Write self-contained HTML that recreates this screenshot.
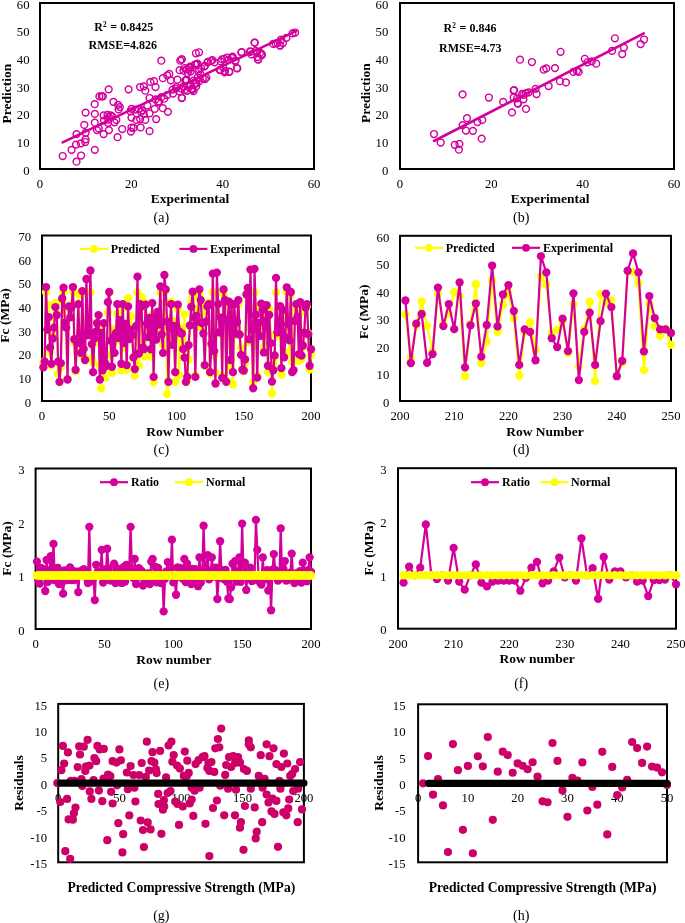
<!DOCTYPE html>
<html><head><meta charset="utf-8"><style>
html,body{margin:0;padding:0;background:#fff;}
body{width:685px;height:923px;overflow:hidden;}
svg{display:block;font-family:"Liberation Serif",serif;will-change:transform;}
</style></head><body>
<svg width="685" height="923" viewBox="0 0 685 923">
<rect width="685" height="923" fill="#fff"/>
<rect x="40.00" y="3.00" width="274.00" height="166.00" fill="none" stroke="#000" stroke-width="2"/>
<circle cx="62.7" cy="156.0" r="3.4" fill="none" stroke="#d4009b" stroke-width="1.45"/>
<circle cx="71.6" cy="149.8" r="3.4" fill="none" stroke="#d4009b" stroke-width="1.45"/>
<circle cx="76.5" cy="161.7" r="3.4" fill="none" stroke="#d4009b" stroke-width="1.45"/>
<circle cx="81.1" cy="155.5" r="3.4" fill="none" stroke="#d4009b" stroke-width="1.45"/>
<circle cx="76.0" cy="144.6" r="3.4" fill="none" stroke="#d4009b" stroke-width="1.45"/>
<circle cx="80.8" cy="143.3" r="3.4" fill="none" stroke="#d4009b" stroke-width="1.45"/>
<circle cx="85.2" cy="142.0" r="3.4" fill="none" stroke="#d4009b" stroke-width="1.45"/>
<circle cx="85.6" cy="139.3" r="3.4" fill="none" stroke="#d4009b" stroke-width="1.45"/>
<circle cx="76.5" cy="134.1" r="3.4" fill="none" stroke="#d4009b" stroke-width="1.45"/>
<circle cx="84.3" cy="124.9" r="3.4" fill="none" stroke="#d4009b" stroke-width="1.45"/>
<circle cx="85.6" cy="132.8" r="3.4" fill="none" stroke="#d4009b" stroke-width="1.45"/>
<circle cx="94.8" cy="149.8" r="3.4" fill="none" stroke="#d4009b" stroke-width="1.45"/>
<circle cx="85.6" cy="112.6" r="3.4" fill="none" stroke="#d4009b" stroke-width="1.45"/>
<circle cx="94.8" cy="113.9" r="3.4" fill="none" stroke="#d4009b" stroke-width="1.45"/>
<circle cx="94.8" cy="122.7" r="3.4" fill="none" stroke="#d4009b" stroke-width="1.45"/>
<circle cx="97.0" cy="130.1" r="3.4" fill="none" stroke="#d4009b" stroke-width="1.45"/>
<circle cx="98.8" cy="128.4" r="3.4" fill="none" stroke="#d4009b" stroke-width="1.45"/>
<circle cx="103.6" cy="134.1" r="3.4" fill="none" stroke="#d4009b" stroke-width="1.45"/>
<circle cx="108.9" cy="130.1" r="3.4" fill="none" stroke="#d4009b" stroke-width="1.45"/>
<circle cx="103.6" cy="115.3" r="3.4" fill="none" stroke="#d4009b" stroke-width="1.45"/>
<circle cx="107.5" cy="114.8" r="3.4" fill="none" stroke="#d4009b" stroke-width="1.45"/>
<circle cx="110.6" cy="115.3" r="3.4" fill="none" stroke="#d4009b" stroke-width="1.45"/>
<circle cx="104.0" cy="120.5" r="3.4" fill="none" stroke="#d4009b" stroke-width="1.45"/>
<circle cx="108.4" cy="119.6" r="3.4" fill="none" stroke="#d4009b" stroke-width="1.45"/>
<circle cx="114.5" cy="122.3" r="3.4" fill="none" stroke="#d4009b" stroke-width="1.45"/>
<circle cx="94.7" cy="104.2" r="3.4" fill="none" stroke="#d4009b" stroke-width="1.45"/>
<circle cx="99.4" cy="96.3" r="3.4" fill="none" stroke="#d4009b" stroke-width="1.45"/>
<circle cx="101.7" cy="96.3" r="3.4" fill="none" stroke="#d4009b" stroke-width="1.45"/>
<circle cx="102.9" cy="96.3" r="3.4" fill="none" stroke="#d4009b" stroke-width="1.45"/>
<circle cx="113.4" cy="101.8" r="3.4" fill="none" stroke="#d4009b" stroke-width="1.45"/>
<circle cx="118.1" cy="104.8" r="3.4" fill="none" stroke="#d4009b" stroke-width="1.45"/>
<circle cx="119.8" cy="107.1" r="3.4" fill="none" stroke="#d4009b" stroke-width="1.45"/>
<circle cx="118.6" cy="109.4" r="3.4" fill="none" stroke="#d4009b" stroke-width="1.45"/>
<circle cx="116.3" cy="119.9" r="3.4" fill="none" stroke="#d4009b" stroke-width="1.45"/>
<circle cx="112.2" cy="116.4" r="3.4" fill="none" stroke="#d4009b" stroke-width="1.45"/>
<circle cx="122.2" cy="129.0" r="3.4" fill="none" stroke="#d4009b" stroke-width="1.45"/>
<circle cx="117.5" cy="137.2" r="3.4" fill="none" stroke="#d4009b" stroke-width="1.45"/>
<circle cx="108.7" cy="89.3" r="3.4" fill="none" stroke="#d4009b" stroke-width="1.45"/>
<circle cx="128.6" cy="89.3" r="3.4" fill="none" stroke="#d4009b" stroke-width="1.45"/>
<circle cx="131.5" cy="108.8" r="3.4" fill="none" stroke="#d4009b" stroke-width="1.45"/>
<circle cx="131.5" cy="117.6" r="3.4" fill="none" stroke="#d4009b" stroke-width="1.45"/>
<circle cx="131.5" cy="127.5" r="3.4" fill="none" stroke="#d4009b" stroke-width="1.45"/>
<circle cx="130.9" cy="131.6" r="3.4" fill="none" stroke="#d4009b" stroke-width="1.45"/>
<circle cx="108.8" cy="116.9" r="3.4" fill="none" stroke="#d4009b" stroke-width="1.45"/>
<circle cx="108.0" cy="122.8" r="3.4" fill="none" stroke="#d4009b" stroke-width="1.45"/>
<circle cx="133.6" cy="127.9" r="3.4" fill="none" stroke="#d4009b" stroke-width="1.45"/>
<circle cx="140.6" cy="127.4" r="3.4" fill="none" stroke="#d4009b" stroke-width="1.45"/>
<circle cx="149.6" cy="131.2" r="3.4" fill="none" stroke="#d4009b" stroke-width="1.45"/>
<circle cx="136.5" cy="119.9" r="3.4" fill="none" stroke="#d4009b" stroke-width="1.45"/>
<circle cx="140.1" cy="119.1" r="3.4" fill="none" stroke="#d4009b" stroke-width="1.45"/>
<circle cx="145.3" cy="119.9" r="3.4" fill="none" stroke="#d4009b" stroke-width="1.45"/>
<circle cx="156.2" cy="119.1" r="3.4" fill="none" stroke="#d4009b" stroke-width="1.45"/>
<circle cx="135.0" cy="109.6" r="3.4" fill="none" stroke="#d4009b" stroke-width="1.45"/>
<circle cx="138.7" cy="108.9" r="3.4" fill="none" stroke="#d4009b" stroke-width="1.45"/>
<circle cx="142.3" cy="110.4" r="3.4" fill="none" stroke="#d4009b" stroke-width="1.45"/>
<circle cx="147.4" cy="105.5" r="3.4" fill="none" stroke="#d4009b" stroke-width="1.45"/>
<circle cx="149.6" cy="113.3" r="3.4" fill="none" stroke="#d4009b" stroke-width="1.45"/>
<circle cx="154.7" cy="108.9" r="3.4" fill="none" stroke="#d4009b" stroke-width="1.45"/>
<circle cx="162.8" cy="108.2" r="3.4" fill="none" stroke="#d4009b" stroke-width="1.45"/>
<circle cx="167.9" cy="111.8" r="3.4" fill="none" stroke="#d4009b" stroke-width="1.45"/>
<circle cx="149.6" cy="98.0" r="3.4" fill="none" stroke="#d4009b" stroke-width="1.45"/>
<circle cx="155.5" cy="99.4" r="3.4" fill="none" stroke="#d4009b" stroke-width="1.45"/>
<circle cx="159.1" cy="101.6" r="3.4" fill="none" stroke="#d4009b" stroke-width="1.45"/>
<circle cx="161.3" cy="97.2" r="3.4" fill="none" stroke="#d4009b" stroke-width="1.45"/>
<circle cx="164.2" cy="98.7" r="3.4" fill="none" stroke="#d4009b" stroke-width="1.45"/>
<circle cx="167.2" cy="95.0" r="3.4" fill="none" stroke="#d4009b" stroke-width="1.45"/>
<circle cx="162.8" cy="78.2" r="3.4" fill="none" stroke="#d4009b" stroke-width="1.45"/>
<circle cx="167.2" cy="75.3" r="3.4" fill="none" stroke="#d4009b" stroke-width="1.45"/>
<circle cx="169.3" cy="73.9" r="3.4" fill="none" stroke="#d4009b" stroke-width="1.45"/>
<circle cx="170.8" cy="80.4" r="3.4" fill="none" stroke="#d4009b" stroke-width="1.45"/>
<circle cx="177.4" cy="79.7" r="3.4" fill="none" stroke="#d4009b" stroke-width="1.45"/>
<circle cx="140.1" cy="87.0" r="3.4" fill="none" stroke="#d4009b" stroke-width="1.45"/>
<circle cx="143.8" cy="86.3" r="3.4" fill="none" stroke="#d4009b" stroke-width="1.45"/>
<circle cx="145.3" cy="90.7" r="3.4" fill="none" stroke="#d4009b" stroke-width="1.45"/>
<circle cx="150.4" cy="81.9" r="3.4" fill="none" stroke="#d4009b" stroke-width="1.45"/>
<circle cx="154.0" cy="81.2" r="3.4" fill="none" stroke="#d4009b" stroke-width="1.45"/>
<circle cx="155.5" cy="87.0" r="3.4" fill="none" stroke="#d4009b" stroke-width="1.45"/>
<circle cx="161.3" cy="60.7" r="3.4" fill="none" stroke="#d4009b" stroke-width="1.45"/>
<circle cx="180.3" cy="60.7" r="3.4" fill="none" stroke="#d4009b" stroke-width="1.45"/>
<circle cx="175.9" cy="88.5" r="3.4" fill="none" stroke="#d4009b" stroke-width="1.45"/>
<circle cx="179.6" cy="91.4" r="3.4" fill="none" stroke="#d4009b" stroke-width="1.45"/>
<circle cx="181.8" cy="98.0" r="3.4" fill="none" stroke="#d4009b" stroke-width="1.45"/>
<circle cx="184.7" cy="89.9" r="3.4" fill="none" stroke="#d4009b" stroke-width="1.45"/>
<circle cx="189.1" cy="87.0" r="3.4" fill="none" stroke="#d4009b" stroke-width="1.45"/>
<circle cx="192.0" cy="89.9" r="3.4" fill="none" stroke="#d4009b" stroke-width="1.45"/>
<circle cx="179.6" cy="70.2" r="3.4" fill="none" stroke="#d4009b" stroke-width="1.45"/>
<circle cx="184.7" cy="68.0" r="3.4" fill="none" stroke="#d4009b" stroke-width="1.45"/>
<circle cx="189.1" cy="69.5" r="3.4" fill="none" stroke="#d4009b" stroke-width="1.45"/>
<circle cx="187.6" cy="73.1" r="3.4" fill="none" stroke="#d4009b" stroke-width="1.45"/>
<circle cx="196.4" cy="64.4" r="3.4" fill="none" stroke="#d4009b" stroke-width="1.45"/>
<circle cx="196.4" cy="83.4" r="3.4" fill="none" stroke="#d4009b" stroke-width="1.45"/>
<circle cx="197.8" cy="77.5" r="3.4" fill="none" stroke="#d4009b" stroke-width="1.45"/>
<circle cx="186.1" cy="80.4" r="3.4" fill="none" stroke="#d4009b" stroke-width="1.45"/>
<circle cx="173.0" cy="93.6" r="3.4" fill="none" stroke="#d4009b" stroke-width="1.45"/>
<circle cx="130.5" cy="111.3" r="3.4" fill="none" stroke="#d4009b" stroke-width="1.45"/>
<circle cx="141.0" cy="111.9" r="3.4" fill="none" stroke="#d4009b" stroke-width="1.45"/>
<circle cx="143.7" cy="113.9" r="3.4" fill="none" stroke="#d4009b" stroke-width="1.45"/>
<circle cx="158.1" cy="102.1" r="3.4" fill="none" stroke="#d4009b" stroke-width="1.45"/>
<circle cx="172.6" cy="89.6" r="3.4" fill="none" stroke="#d4009b" stroke-width="1.45"/>
<circle cx="196.2" cy="86.3" r="3.4" fill="none" stroke="#d4009b" stroke-width="1.45"/>
<circle cx="176.5" cy="87.0" r="3.4" fill="none" stroke="#d4009b" stroke-width="1.45"/>
<circle cx="181.8" cy="88.9" r="3.4" fill="none" stroke="#d4009b" stroke-width="1.45"/>
<circle cx="181.6" cy="59.4" r="3.4" fill="none" stroke="#d4009b" stroke-width="1.45"/>
<circle cx="189.8" cy="67.6" r="3.4" fill="none" stroke="#d4009b" stroke-width="1.45"/>
<circle cx="195.9" cy="53.3" r="3.4" fill="none" stroke="#d4009b" stroke-width="1.45"/>
<circle cx="199.0" cy="52.3" r="3.4" fill="none" stroke="#d4009b" stroke-width="1.45"/>
<circle cx="186.7" cy="79.9" r="3.4" fill="none" stroke="#d4009b" stroke-width="1.45"/>
<circle cx="295.1" cy="32.5" r="3.4" fill="none" stroke="#d4009b" stroke-width="1.45"/>
<circle cx="292.5" cy="33.4" r="3.4" fill="none" stroke="#d4009b" stroke-width="1.45"/>
<circle cx="286.4" cy="37.8" r="3.4" fill="none" stroke="#d4009b" stroke-width="1.45"/>
<circle cx="281.1" cy="39.5" r="3.4" fill="none" stroke="#d4009b" stroke-width="1.45"/>
<circle cx="273.2" cy="43.9" r="3.4" fill="none" stroke="#d4009b" stroke-width="1.45"/>
<circle cx="277.6" cy="43.0" r="3.4" fill="none" stroke="#d4009b" stroke-width="1.45"/>
<circle cx="280.2" cy="45.7" r="3.4" fill="none" stroke="#d4009b" stroke-width="1.45"/>
<circle cx="282.9" cy="43.0" r="3.4" fill="none" stroke="#d4009b" stroke-width="1.45"/>
<circle cx="254.8" cy="42.7" r="3.4" fill="none" stroke="#d4009b" stroke-width="1.45"/>
<circle cx="241.7" cy="52.1" r="3.4" fill="none" stroke="#d4009b" stroke-width="1.45"/>
<circle cx="250.4" cy="51.8" r="3.4" fill="none" stroke="#d4009b" stroke-width="1.45"/>
<circle cx="255.7" cy="50.9" r="3.4" fill="none" stroke="#d4009b" stroke-width="1.45"/>
<circle cx="260.1" cy="52.7" r="3.4" fill="none" stroke="#d4009b" stroke-width="1.45"/>
<circle cx="261.8" cy="55.0" r="3.4" fill="none" stroke="#d4009b" stroke-width="1.45"/>
<circle cx="258.3" cy="59.7" r="3.4" fill="none" stroke="#d4009b" stroke-width="1.45"/>
<circle cx="257.4" cy="57.0" r="3.4" fill="none" stroke="#d4009b" stroke-width="1.45"/>
<circle cx="251.3" cy="54.4" r="3.4" fill="none" stroke="#d4009b" stroke-width="1.45"/>
<circle cx="237.3" cy="68.4" r="3.4" fill="none" stroke="#d4009b" stroke-width="1.45"/>
<circle cx="232.0" cy="57.9" r="3.4" fill="none" stroke="#d4009b" stroke-width="1.45"/>
<circle cx="228.5" cy="59.7" r="3.4" fill="none" stroke="#d4009b" stroke-width="1.45"/>
<circle cx="224.2" cy="58.8" r="3.4" fill="none" stroke="#d4009b" stroke-width="1.45"/>
<circle cx="235.5" cy="60.5" r="3.4" fill="none" stroke="#d4009b" stroke-width="1.45"/>
<circle cx="220.7" cy="61.4" r="3.4" fill="none" stroke="#d4009b" stroke-width="1.45"/>
<circle cx="214.5" cy="62.3" r="3.4" fill="none" stroke="#d4009b" stroke-width="1.45"/>
<circle cx="211.0" cy="60.9" r="3.4" fill="none" stroke="#d4009b" stroke-width="1.45"/>
<circle cx="207.5" cy="62.3" r="3.4" fill="none" stroke="#d4009b" stroke-width="1.45"/>
<circle cx="229.4" cy="71.9" r="3.4" fill="none" stroke="#d4009b" stroke-width="1.45"/>
<circle cx="225.0" cy="71.1" r="3.4" fill="none" stroke="#d4009b" stroke-width="1.45"/>
<circle cx="219.8" cy="70.2" r="3.4" fill="none" stroke="#d4009b" stroke-width="1.45"/>
<circle cx="223.3" cy="67.6" r="3.4" fill="none" stroke="#d4009b" stroke-width="1.45"/>
<circle cx="204.9" cy="65.8" r="3.4" fill="none" stroke="#d4009b" stroke-width="1.45"/>
<circle cx="198.8" cy="69.3" r="3.4" fill="none" stroke="#d4009b" stroke-width="1.45"/>
<circle cx="200.5" cy="74.6" r="3.4" fill="none" stroke="#d4009b" stroke-width="1.45"/>
<circle cx="204.9" cy="79.0" r="3.4" fill="none" stroke="#d4009b" stroke-width="1.45"/>
<circle cx="193.5" cy="80.7" r="3.4" fill="none" stroke="#d4009b" stroke-width="1.45"/>
<circle cx="196.1" cy="83.3" r="3.4" fill="none" stroke="#d4009b" stroke-width="1.45"/>
<circle cx="191.8" cy="88.6" r="3.4" fill="none" stroke="#d4009b" stroke-width="1.45"/>
<circle cx="193.5" cy="91.2" r="3.4" fill="none" stroke="#d4009b" stroke-width="1.45"/>
<circle cx="183.5" cy="70.7" r="3.4" fill="none" stroke="#d4009b" stroke-width="1.45"/>
<circle cx="190.5" cy="71.5" r="3.4" fill="none" stroke="#d4009b" stroke-width="1.45"/>
<circle cx="201.0" cy="68.0" r="3.4" fill="none" stroke="#d4009b" stroke-width="1.45"/>
<circle cx="198.4" cy="71.5" r="3.4" fill="none" stroke="#d4009b" stroke-width="1.45"/>
<circle cx="212.4" cy="60.1" r="3.4" fill="none" stroke="#d4009b" stroke-width="1.45"/>
<circle cx="202.8" cy="78.5" r="3.4" fill="none" stroke="#d4009b" stroke-width="1.45"/>
<circle cx="206.3" cy="77.7" r="3.4" fill="none" stroke="#d4009b" stroke-width="1.45"/>
<circle cx="199.3" cy="81.2" r="3.4" fill="none" stroke="#d4009b" stroke-width="1.45"/>
<circle cx="190.5" cy="84.7" r="3.4" fill="none" stroke="#d4009b" stroke-width="1.45"/>
<circle cx="185.3" cy="80.3" r="3.4" fill="none" stroke="#d4009b" stroke-width="1.45"/>
<circle cx="183.5" cy="86.4" r="3.4" fill="none" stroke="#d4009b" stroke-width="1.45"/>
<circle cx="187.0" cy="90.8" r="3.4" fill="none" stroke="#d4009b" stroke-width="1.45"/>
<circle cx="224.7" cy="72.4" r="3.4" fill="none" stroke="#d4009b" stroke-width="1.45"/>
<circle cx="227.3" cy="57.5" r="3.4" fill="none" stroke="#d4009b" stroke-width="1.45"/>
<circle cx="232.6" cy="56.6" r="3.4" fill="none" stroke="#d4009b" stroke-width="1.45"/>
<circle cx="257.1" cy="52.3" r="3.4" fill="none" stroke="#d4009b" stroke-width="1.45"/>
<circle cx="190.0" cy="66.7" r="3.4" fill="none" stroke="#d4009b" stroke-width="1.45"/>
<circle cx="197.0" cy="64.1" r="3.4" fill="none" stroke="#d4009b" stroke-width="1.45"/>
<circle cx="204.5" cy="66.3" r="3.4" fill="none" stroke="#d4009b" stroke-width="1.45"/>
<circle cx="208.0" cy="61.9" r="3.4" fill="none" stroke="#d4009b" stroke-width="1.45"/>
<circle cx="222.0" cy="59.3" r="3.4" fill="none" stroke="#d4009b" stroke-width="1.45"/>
<circle cx="235.2" cy="61.0" r="3.4" fill="none" stroke="#d4009b" stroke-width="1.45"/>
<circle cx="241.3" cy="52.3" r="3.4" fill="none" stroke="#d4009b" stroke-width="1.45"/>
<circle cx="254.5" cy="42.6" r="3.4" fill="none" stroke="#d4009b" stroke-width="1.45"/>
<circle cx="250.1" cy="51.4" r="3.4" fill="none" stroke="#d4009b" stroke-width="1.45"/>
<circle cx="261.5" cy="54.0" r="3.4" fill="none" stroke="#d4009b" stroke-width="1.45"/>
<circle cx="258.0" cy="59.3" r="3.4" fill="none" stroke="#d4009b" stroke-width="1.45"/>
<circle cx="275.5" cy="43.5" r="3.4" fill="none" stroke="#d4009b" stroke-width="1.45"/>
<circle cx="279.9" cy="45.3" r="3.4" fill="none" stroke="#d4009b" stroke-width="1.45"/>
<circle cx="236.9" cy="68.0" r="3.4" fill="none" stroke="#d4009b" stroke-width="1.45"/>
<circle cx="220.3" cy="69.8" r="3.4" fill="none" stroke="#d4009b" stroke-width="1.45"/>
<circle cx="229.1" cy="71.5" r="3.4" fill="none" stroke="#d4009b" stroke-width="1.45"/>
<circle cx="192.3" cy="89.9" r="3.4" fill="none" stroke="#d4009b" stroke-width="1.45"/>
<circle cx="194.9" cy="82.9" r="3.4" fill="none" stroke="#d4009b" stroke-width="1.45"/>
<circle cx="187.0" cy="68.9" r="3.4" fill="none" stroke="#d4009b" stroke-width="1.45"/>
<circle cx="197.5" cy="63.7" r="3.4" fill="none" stroke="#d4009b" stroke-width="1.45"/>
<circle cx="194.9" cy="64.5" r="3.4" fill="none" stroke="#d4009b" stroke-width="1.45"/>
<circle cx="181.8" cy="97.8" r="3.4" fill="none" stroke="#d4009b" stroke-width="1.45"/>
<circle cx="181.8" cy="59.3" r="3.4" fill="none" stroke="#d4009b" stroke-width="1.45"/>
<line x1="62.70" y1="142.40" x2="296.00" y2="31.10" stroke="#d4009b" stroke-width="2.6" stroke-linecap="round"/>
<text transform="translate(29.50 174.70) scale(1 1.03)" font-size="12.7" text-anchor="end" fill="#000">0</text>
<text transform="translate(29.50 147.03) scale(1 1.03)" font-size="12.7" text-anchor="end" fill="#000">10</text>
<text transform="translate(29.50 119.37) scale(1 1.03)" font-size="12.7" text-anchor="end" fill="#000">20</text>
<text transform="translate(29.50 91.70) scale(1 1.03)" font-size="12.7" text-anchor="end" fill="#000">30</text>
<text transform="translate(29.50 64.03) scale(1 1.03)" font-size="12.7" text-anchor="end" fill="#000">40</text>
<text transform="translate(29.50 36.37) scale(1 1.03)" font-size="12.7" text-anchor="end" fill="#000">50</text>
<text transform="translate(29.50 8.70) scale(1 1.03)" font-size="12.7" text-anchor="end" fill="#000">60</text>
<text transform="translate(40.00 187.70) scale(1 1.03)" font-size="12.7" text-anchor="middle" fill="#000">0</text>
<text transform="translate(131.33 187.70) scale(1 1.03)" font-size="12.7" text-anchor="middle" fill="#000">20</text>
<text transform="translate(222.67 187.70) scale(1 1.03)" font-size="12.7" text-anchor="middle" fill="#000">40</text>
<text transform="translate(314.00 187.70) scale(1 1.03)" font-size="12.7" text-anchor="middle" fill="#000">60</text>
<text x="190.00" y="202.50" font-size="13.5" font-weight="bold" text-anchor="middle" fill="#000">Experimental</text>
<text x="161.30" y="221.60" font-size="14" text-anchor="middle" fill="#000">(a)</text>
<text x="11.00" y="93.50" font-size="13.5" font-weight="bold" text-anchor="middle" fill="#000" transform="rotate(-90 11.00 93.50)">Prediction</text>
<text x="94.30" y="30.80" font-size="12" font-weight="bold">R<tspan font-size="7.2" dy="-4.1">2</tspan><tspan dy="4.1" dx="0.8"> = 0.8425</tspan></text>
<text x="88.50" y="48.80" font-size="12" font-weight="bold">RMSE=4.826</text>
<rect x="400.00" y="3.00" width="274.00" height="166.00" fill="none" stroke="#000" stroke-width="2"/>
<circle cx="434.0" cy="134.0" r="3.4" fill="none" stroke="#d4009b" stroke-width="1.45"/>
<circle cx="440.7" cy="142.5" r="3.4" fill="none" stroke="#d4009b" stroke-width="1.45"/>
<circle cx="454.7" cy="144.8" r="3.4" fill="none" stroke="#d4009b" stroke-width="1.45"/>
<circle cx="459.4" cy="143.9" r="3.4" fill="none" stroke="#d4009b" stroke-width="1.45"/>
<circle cx="458.9" cy="149.7" r="3.4" fill="none" stroke="#d4009b" stroke-width="1.45"/>
<circle cx="462.6" cy="94.4" r="3.4" fill="none" stroke="#d4009b" stroke-width="1.45"/>
<circle cx="462.6" cy="125.2" r="3.4" fill="none" stroke="#d4009b" stroke-width="1.45"/>
<circle cx="467.0" cy="118.2" r="3.4" fill="none" stroke="#d4009b" stroke-width="1.45"/>
<circle cx="465.9" cy="130.5" r="3.4" fill="none" stroke="#d4009b" stroke-width="1.45"/>
<circle cx="472.9" cy="130.8" r="3.4" fill="none" stroke="#d4009b" stroke-width="1.45"/>
<circle cx="477.5" cy="122.0" r="3.4" fill="none" stroke="#d4009b" stroke-width="1.45"/>
<circle cx="482.2" cy="119.9" r="3.4" fill="none" stroke="#d4009b" stroke-width="1.45"/>
<circle cx="481.7" cy="138.7" r="3.4" fill="none" stroke="#d4009b" stroke-width="1.45"/>
<circle cx="488.9" cy="97.5" r="3.4" fill="none" stroke="#d4009b" stroke-width="1.45"/>
<circle cx="503.2" cy="101.9" r="3.4" fill="none" stroke="#d4009b" stroke-width="1.45"/>
<circle cx="512.0" cy="112.4" r="3.4" fill="none" stroke="#d4009b" stroke-width="1.45"/>
<circle cx="513.7" cy="90.5" r="3.4" fill="none" stroke="#d4009b" stroke-width="1.45"/>
<circle cx="513.7" cy="97.5" r="3.4" fill="none" stroke="#d4009b" stroke-width="1.45"/>
<circle cx="517.2" cy="98.4" r="3.4" fill="none" stroke="#d4009b" stroke-width="1.45"/>
<circle cx="518.1" cy="103.7" r="3.4" fill="none" stroke="#d4009b" stroke-width="1.45"/>
<circle cx="523.4" cy="99.3" r="3.4" fill="none" stroke="#d4009b" stroke-width="1.45"/>
<circle cx="523.4" cy="94.9" r="3.4" fill="none" stroke="#d4009b" stroke-width="1.45"/>
<circle cx="526.0" cy="108.9" r="3.4" fill="none" stroke="#d4009b" stroke-width="1.45"/>
<circle cx="526.0" cy="93.1" r="3.4" fill="none" stroke="#d4009b" stroke-width="1.45"/>
<circle cx="528.6" cy="92.3" r="3.4" fill="none" stroke="#d4009b" stroke-width="1.45"/>
<circle cx="535.6" cy="88.8" r="3.4" fill="none" stroke="#d4009b" stroke-width="1.45"/>
<circle cx="536.5" cy="94.0" r="3.4" fill="none" stroke="#d4009b" stroke-width="1.45"/>
<circle cx="520.0" cy="59.7" r="3.4" fill="none" stroke="#d4009b" stroke-width="1.45"/>
<circle cx="531.9" cy="62.0" r="3.4" fill="none" stroke="#d4009b" stroke-width="1.45"/>
<circle cx="543.7" cy="69.7" r="3.4" fill="none" stroke="#d4009b" stroke-width="1.45"/>
<circle cx="546.3" cy="68.4" r="3.4" fill="none" stroke="#d4009b" stroke-width="1.45"/>
<circle cx="555.0" cy="68.1" r="3.4" fill="none" stroke="#d4009b" stroke-width="1.45"/>
<circle cx="560.6" cy="51.8" r="3.4" fill="none" stroke="#d4009b" stroke-width="1.45"/>
<circle cx="548.6" cy="86.0" r="3.4" fill="none" stroke="#d4009b" stroke-width="1.45"/>
<circle cx="559.9" cy="81.2" r="3.4" fill="none" stroke="#d4009b" stroke-width="1.45"/>
<circle cx="565.9" cy="82.4" r="3.4" fill="none" stroke="#d4009b" stroke-width="1.45"/>
<circle cx="573.4" cy="71.9" r="3.4" fill="none" stroke="#d4009b" stroke-width="1.45"/>
<circle cx="576.9" cy="71.1" r="3.4" fill="none" stroke="#d4009b" stroke-width="1.45"/>
<circle cx="578.7" cy="71.9" r="3.4" fill="none" stroke="#d4009b" stroke-width="1.45"/>
<circle cx="584.8" cy="58.8" r="3.4" fill="none" stroke="#d4009b" stroke-width="1.45"/>
<circle cx="587.4" cy="62.3" r="3.4" fill="none" stroke="#d4009b" stroke-width="1.45"/>
<circle cx="591.8" cy="61.4" r="3.4" fill="none" stroke="#d4009b" stroke-width="1.45"/>
<circle cx="596.2" cy="63.7" r="3.4" fill="none" stroke="#d4009b" stroke-width="1.45"/>
<circle cx="612.0" cy="50.9" r="3.4" fill="none" stroke="#d4009b" stroke-width="1.45"/>
<circle cx="614.9" cy="38.3" r="3.4" fill="none" stroke="#d4009b" stroke-width="1.45"/>
<circle cx="623.9" cy="47.6" r="3.4" fill="none" stroke="#d4009b" stroke-width="1.45"/>
<circle cx="622.2" cy="54.1" r="3.4" fill="none" stroke="#d4009b" stroke-width="1.45"/>
<circle cx="640.6" cy="44.1" r="3.4" fill="none" stroke="#d4009b" stroke-width="1.45"/>
<circle cx="644.1" cy="39.5" r="3.4" fill="none" stroke="#d4009b" stroke-width="1.45"/>
<circle cx="514.1" cy="90.1" r="3.4" fill="none" stroke="#d4009b" stroke-width="1.45"/>
<circle cx="517.7" cy="103.3" r="3.4" fill="none" stroke="#d4009b" stroke-width="1.45"/>
<circle cx="522.1" cy="93.8" r="3.4" fill="none" stroke="#d4009b" stroke-width="1.45"/>
<line x1="434.00" y1="141.00" x2="643.80" y2="33.30" stroke="#d4009b" stroke-width="2.6" stroke-linecap="round"/>
<text transform="translate(388.30 174.70) scale(1 1.03)" font-size="12.7" text-anchor="end" fill="#000">0</text>
<text transform="translate(388.30 147.03) scale(1 1.03)" font-size="12.7" text-anchor="end" fill="#000">10</text>
<text transform="translate(388.30 119.37) scale(1 1.03)" font-size="12.7" text-anchor="end" fill="#000">20</text>
<text transform="translate(388.30 91.70) scale(1 1.03)" font-size="12.7" text-anchor="end" fill="#000">30</text>
<text transform="translate(388.30 64.03) scale(1 1.03)" font-size="12.7" text-anchor="end" fill="#000">40</text>
<text transform="translate(388.30 36.37) scale(1 1.03)" font-size="12.7" text-anchor="end" fill="#000">50</text>
<text transform="translate(388.30 8.70) scale(1 1.03)" font-size="12.7" text-anchor="end" fill="#000">60</text>
<text transform="translate(400.00 187.70) scale(1 1.03)" font-size="12.7" text-anchor="middle" fill="#000">0</text>
<text transform="translate(491.33 187.70) scale(1 1.03)" font-size="12.7" text-anchor="middle" fill="#000">20</text>
<text transform="translate(582.67 187.70) scale(1 1.03)" font-size="12.7" text-anchor="middle" fill="#000">40</text>
<text transform="translate(674.00 187.70) scale(1 1.03)" font-size="12.7" text-anchor="middle" fill="#000">60</text>
<text x="550.20" y="202.50" font-size="13.5" font-weight="bold" text-anchor="middle" fill="#000">Experimental</text>
<text x="521.20" y="221.60" font-size="14" text-anchor="middle" fill="#000">(b)</text>
<text x="369.70" y="93.00" font-size="13.5" font-weight="bold" text-anchor="middle" fill="#000" transform="rotate(-90 369.70 93.00)">Prediction</text>
<text x="443.50" y="31.90" font-size="12" font-weight="bold">R<tspan font-size="7.2" dy="-4.1">2</tspan><tspan dy="4.1" dx="0.8"> = 0.846</tspan></text>
<text x="439.10" y="51.80" font-size="12" font-weight="bold">RMSE=4.73</text>
<rect x="42.00" y="235.50" width="269.00" height="165.50" fill="none" stroke="#000" stroke-width="2"/>
<polyline points="43.34,363.34 44.69,361.01 46.03,292.24 47.38,330.12 48.73,304.85 50.07,352.01 51.41,365.54 52.76,333.71 54.11,318.13 55.45,302.81 56.80,313.10 58.14,373.66 59.48,382.09 60.83,367.19 62.17,301.92 63.52,292.24 64.87,325.20 66.21,322.42 67.56,378.94 68.90,308.54 70.25,316.64 71.59,304.30 72.94,292.24 74.28,342.37 75.62,371.33 76.97,351.70 78.31,293.45 79.66,333.36 81.00,354.12 82.35,294.23 83.69,357.17 85.04,358.92 86.39,292.24 87.73,321.06 89.07,332.61 90.42,292.24 91.77,358.28 93.11,362.83 94.45,337.16 95.80,342.33 97.14,322.06 98.49,325.77 99.84,365.30 101.18,388.23 102.53,366.47 103.87,324.22 105.22,377.57 106.56,366.53 107.91,312.46 109.25,292.24 110.59,354.77 111.94,372.79 113.28,329.05 114.63,341.93 115.98,340.69 117.32,314.22 118.66,332.32 120.01,314.59 121.35,370.29 122.70,308.66 124.05,347.55 125.39,331.72 126.73,369.57 128.08,298.15 129.43,334.46 130.77,316.11 132.12,335.66 133.46,358.28 134.81,375.59 136.15,326.65 137.50,292.24 138.84,365.25 140.19,299.45 141.53,296.90 142.88,341.78 144.22,356.08 145.56,302.87 146.91,328.13 148.25,336.55 149.60,320.50 150.94,356.62 152.29,314.32 153.63,382.09 154.98,317.13 156.32,338.66 157.67,314.92 159.01,315.16 160.36,292.24 161.70,330.47 163.05,344.78 164.40,292.24 165.74,302.45 167.09,393.91 168.43,382.09 169.77,319.08 171.12,301.93 172.47,338.08 173.81,320.96 175.16,382.09 176.50,322.20 177.84,308.99 179.19,374.99 180.53,335.86 181.88,328.42 183.22,343.34 184.57,314.47 185.92,382.09 187.26,380.79 188.61,359.32 189.95,325.97 191.30,302.82 192.64,296.83 193.98,315.91 195.33,375.35 196.67,309.33 198.02,326.98 199.36,294.89 200.71,305.10 202.06,311.53 203.40,326.26 204.75,365.88 206.09,320.17 207.44,305.67 208.78,302.72 210.12,373.54 211.47,345.96 212.81,292.24 214.16,355.36 215.50,372.58 216.85,292.24 218.19,303.64 219.54,333.67 220.89,317.24 222.23,375.49 223.58,293.68 224.92,298.75 226.27,380.26 227.61,324.56 228.95,306.92 230.30,366.60 231.64,311.10 232.99,384.21 234.33,318.25 235.68,335.37 237.03,326.09 238.37,304.15 239.72,333.97 241.06,347.47 242.41,369.29 243.75,371.43 245.09,363.44 246.44,295.22 247.78,292.24 249.13,342.02 250.47,292.24 251.82,338.02 253.17,382.09 254.51,292.24 255.86,307.46 257.20,375.24 258.55,324.48 259.89,326.31 261.24,307.95 262.58,304.95 263.92,347.15 265.27,331.47 266.62,315.55 267.96,371.91 269.31,308.81 270.65,334.45 272.00,393.43 273.34,363.32 274.69,357.91 276.03,292.24 277.38,336.05 278.72,328.70 280.06,318.09 281.41,374.76 282.75,318.15 284.10,354.10 285.44,323.29 286.79,292.24 288.13,326.35 289.48,351.73 290.83,294.70 292.17,362.23 293.51,357.13 294.86,317.18 296.20,308.89 297.55,310.79 298.89,360.81 300.24,312.93 301.58,359.12 302.93,347.04 304.27,332.58 305.62,306.74 306.96,306.31 308.31,333.07 309.65,369.65 311.00,355.16" fill="none" stroke="#ffff00" stroke-width="2.2" stroke-linejoin="round"/>
<circle cx="43.34" cy="363.34" r="4.15" fill="#ffff00"/>
<circle cx="44.69" cy="361.01" r="4.15" fill="#ffff00"/>
<circle cx="46.03" cy="292.24" r="4.15" fill="#ffff00"/>
<circle cx="47.38" cy="330.12" r="4.15" fill="#ffff00"/>
<circle cx="48.73" cy="304.85" r="4.15" fill="#ffff00"/>
<circle cx="50.07" cy="352.01" r="4.15" fill="#ffff00"/>
<circle cx="51.41" cy="365.54" r="4.15" fill="#ffff00"/>
<circle cx="52.76" cy="333.71" r="4.15" fill="#ffff00"/>
<circle cx="54.11" cy="318.13" r="4.15" fill="#ffff00"/>
<circle cx="55.45" cy="302.81" r="4.15" fill="#ffff00"/>
<circle cx="56.80" cy="313.10" r="4.15" fill="#ffff00"/>
<circle cx="58.14" cy="373.66" r="4.15" fill="#ffff00"/>
<circle cx="59.48" cy="382.09" r="4.15" fill="#ffff00"/>
<circle cx="60.83" cy="367.19" r="4.15" fill="#ffff00"/>
<circle cx="62.17" cy="301.92" r="4.15" fill="#ffff00"/>
<circle cx="63.52" cy="292.24" r="4.15" fill="#ffff00"/>
<circle cx="64.87" cy="325.20" r="4.15" fill="#ffff00"/>
<circle cx="66.21" cy="322.42" r="4.15" fill="#ffff00"/>
<circle cx="67.56" cy="378.94" r="4.15" fill="#ffff00"/>
<circle cx="68.90" cy="308.54" r="4.15" fill="#ffff00"/>
<circle cx="70.25" cy="316.64" r="4.15" fill="#ffff00"/>
<circle cx="71.59" cy="304.30" r="4.15" fill="#ffff00"/>
<circle cx="72.94" cy="292.24" r="4.15" fill="#ffff00"/>
<circle cx="74.28" cy="342.37" r="4.15" fill="#ffff00"/>
<circle cx="75.62" cy="371.33" r="4.15" fill="#ffff00"/>
<circle cx="76.97" cy="351.70" r="4.15" fill="#ffff00"/>
<circle cx="78.31" cy="293.45" r="4.15" fill="#ffff00"/>
<circle cx="79.66" cy="333.36" r="4.15" fill="#ffff00"/>
<circle cx="81.00" cy="354.12" r="4.15" fill="#ffff00"/>
<circle cx="82.35" cy="294.23" r="4.15" fill="#ffff00"/>
<circle cx="83.69" cy="357.17" r="4.15" fill="#ffff00"/>
<circle cx="85.04" cy="358.92" r="4.15" fill="#ffff00"/>
<circle cx="86.39" cy="292.24" r="4.15" fill="#ffff00"/>
<circle cx="87.73" cy="321.06" r="4.15" fill="#ffff00"/>
<circle cx="89.07" cy="332.61" r="4.15" fill="#ffff00"/>
<circle cx="90.42" cy="292.24" r="4.15" fill="#ffff00"/>
<circle cx="91.77" cy="358.28" r="4.15" fill="#ffff00"/>
<circle cx="93.11" cy="362.83" r="4.15" fill="#ffff00"/>
<circle cx="94.45" cy="337.16" r="4.15" fill="#ffff00"/>
<circle cx="95.80" cy="342.33" r="4.15" fill="#ffff00"/>
<circle cx="97.14" cy="322.06" r="4.15" fill="#ffff00"/>
<circle cx="98.49" cy="325.77" r="4.15" fill="#ffff00"/>
<circle cx="99.84" cy="365.30" r="4.15" fill="#ffff00"/>
<circle cx="101.18" cy="388.23" r="4.15" fill="#ffff00"/>
<circle cx="102.53" cy="366.47" r="4.15" fill="#ffff00"/>
<circle cx="103.87" cy="324.22" r="4.15" fill="#ffff00"/>
<circle cx="105.22" cy="377.57" r="4.15" fill="#ffff00"/>
<circle cx="106.56" cy="366.53" r="4.15" fill="#ffff00"/>
<circle cx="107.91" cy="312.46" r="4.15" fill="#ffff00"/>
<circle cx="109.25" cy="292.24" r="4.15" fill="#ffff00"/>
<circle cx="110.59" cy="354.77" r="4.15" fill="#ffff00"/>
<circle cx="111.94" cy="372.79" r="4.15" fill="#ffff00"/>
<circle cx="113.28" cy="329.05" r="4.15" fill="#ffff00"/>
<circle cx="114.63" cy="341.93" r="4.15" fill="#ffff00"/>
<circle cx="115.98" cy="340.69" r="4.15" fill="#ffff00"/>
<circle cx="117.32" cy="314.22" r="4.15" fill="#ffff00"/>
<circle cx="118.66" cy="332.32" r="4.15" fill="#ffff00"/>
<circle cx="120.01" cy="314.59" r="4.15" fill="#ffff00"/>
<circle cx="121.35" cy="370.29" r="4.15" fill="#ffff00"/>
<circle cx="122.70" cy="308.66" r="4.15" fill="#ffff00"/>
<circle cx="124.05" cy="347.55" r="4.15" fill="#ffff00"/>
<circle cx="125.39" cy="331.72" r="4.15" fill="#ffff00"/>
<circle cx="126.73" cy="369.57" r="4.15" fill="#ffff00"/>
<circle cx="128.08" cy="298.15" r="4.15" fill="#ffff00"/>
<circle cx="129.43" cy="334.46" r="4.15" fill="#ffff00"/>
<circle cx="130.77" cy="316.11" r="4.15" fill="#ffff00"/>
<circle cx="132.12" cy="335.66" r="4.15" fill="#ffff00"/>
<circle cx="133.46" cy="358.28" r="4.15" fill="#ffff00"/>
<circle cx="134.81" cy="375.59" r="4.15" fill="#ffff00"/>
<circle cx="136.15" cy="326.65" r="4.15" fill="#ffff00"/>
<circle cx="137.50" cy="292.24" r="4.15" fill="#ffff00"/>
<circle cx="138.84" cy="365.25" r="4.15" fill="#ffff00"/>
<circle cx="140.19" cy="299.45" r="4.15" fill="#ffff00"/>
<circle cx="141.53" cy="296.90" r="4.15" fill="#ffff00"/>
<circle cx="142.88" cy="341.78" r="4.15" fill="#ffff00"/>
<circle cx="144.22" cy="356.08" r="4.15" fill="#ffff00"/>
<circle cx="145.56" cy="302.87" r="4.15" fill="#ffff00"/>
<circle cx="146.91" cy="328.13" r="4.15" fill="#ffff00"/>
<circle cx="148.25" cy="336.55" r="4.15" fill="#ffff00"/>
<circle cx="149.60" cy="320.50" r="4.15" fill="#ffff00"/>
<circle cx="150.94" cy="356.62" r="4.15" fill="#ffff00"/>
<circle cx="152.29" cy="314.32" r="4.15" fill="#ffff00"/>
<circle cx="153.63" cy="382.09" r="4.15" fill="#ffff00"/>
<circle cx="154.98" cy="317.13" r="4.15" fill="#ffff00"/>
<circle cx="156.32" cy="338.66" r="4.15" fill="#ffff00"/>
<circle cx="157.67" cy="314.92" r="4.15" fill="#ffff00"/>
<circle cx="159.01" cy="315.16" r="4.15" fill="#ffff00"/>
<circle cx="160.36" cy="292.24" r="4.15" fill="#ffff00"/>
<circle cx="161.70" cy="330.47" r="4.15" fill="#ffff00"/>
<circle cx="163.05" cy="344.78" r="4.15" fill="#ffff00"/>
<circle cx="164.40" cy="292.24" r="4.15" fill="#ffff00"/>
<circle cx="165.74" cy="302.45" r="4.15" fill="#ffff00"/>
<circle cx="167.09" cy="393.91" r="4.15" fill="#ffff00"/>
<circle cx="168.43" cy="382.09" r="4.15" fill="#ffff00"/>
<circle cx="169.77" cy="319.08" r="4.15" fill="#ffff00"/>
<circle cx="171.12" cy="301.93" r="4.15" fill="#ffff00"/>
<circle cx="172.47" cy="338.08" r="4.15" fill="#ffff00"/>
<circle cx="173.81" cy="320.96" r="4.15" fill="#ffff00"/>
<circle cx="175.16" cy="382.09" r="4.15" fill="#ffff00"/>
<circle cx="176.50" cy="322.20" r="4.15" fill="#ffff00"/>
<circle cx="177.84" cy="308.99" r="4.15" fill="#ffff00"/>
<circle cx="179.19" cy="374.99" r="4.15" fill="#ffff00"/>
<circle cx="180.53" cy="335.86" r="4.15" fill="#ffff00"/>
<circle cx="181.88" cy="328.42" r="4.15" fill="#ffff00"/>
<circle cx="183.22" cy="343.34" r="4.15" fill="#ffff00"/>
<circle cx="184.57" cy="314.47" r="4.15" fill="#ffff00"/>
<circle cx="185.92" cy="382.09" r="4.15" fill="#ffff00"/>
<circle cx="187.26" cy="380.79" r="4.15" fill="#ffff00"/>
<circle cx="188.61" cy="359.32" r="4.15" fill="#ffff00"/>
<circle cx="189.95" cy="325.97" r="4.15" fill="#ffff00"/>
<circle cx="191.30" cy="302.82" r="4.15" fill="#ffff00"/>
<circle cx="192.64" cy="296.83" r="4.15" fill="#ffff00"/>
<circle cx="193.98" cy="315.91" r="4.15" fill="#ffff00"/>
<circle cx="195.33" cy="375.35" r="4.15" fill="#ffff00"/>
<circle cx="196.67" cy="309.33" r="4.15" fill="#ffff00"/>
<circle cx="198.02" cy="326.98" r="4.15" fill="#ffff00"/>
<circle cx="199.36" cy="294.89" r="4.15" fill="#ffff00"/>
<circle cx="200.71" cy="305.10" r="4.15" fill="#ffff00"/>
<circle cx="202.06" cy="311.53" r="4.15" fill="#ffff00"/>
<circle cx="203.40" cy="326.26" r="4.15" fill="#ffff00"/>
<circle cx="204.75" cy="365.88" r="4.15" fill="#ffff00"/>
<circle cx="206.09" cy="320.17" r="4.15" fill="#ffff00"/>
<circle cx="207.44" cy="305.67" r="4.15" fill="#ffff00"/>
<circle cx="208.78" cy="302.72" r="4.15" fill="#ffff00"/>
<circle cx="210.12" cy="373.54" r="4.15" fill="#ffff00"/>
<circle cx="211.47" cy="345.96" r="4.15" fill="#ffff00"/>
<circle cx="212.81" cy="292.24" r="4.15" fill="#ffff00"/>
<circle cx="214.16" cy="355.36" r="4.15" fill="#ffff00"/>
<circle cx="215.50" cy="372.58" r="4.15" fill="#ffff00"/>
<circle cx="216.85" cy="292.24" r="4.15" fill="#ffff00"/>
<circle cx="218.19" cy="303.64" r="4.15" fill="#ffff00"/>
<circle cx="219.54" cy="333.67" r="4.15" fill="#ffff00"/>
<circle cx="220.89" cy="317.24" r="4.15" fill="#ffff00"/>
<circle cx="222.23" cy="375.49" r="4.15" fill="#ffff00"/>
<circle cx="223.58" cy="293.68" r="4.15" fill="#ffff00"/>
<circle cx="224.92" cy="298.75" r="4.15" fill="#ffff00"/>
<circle cx="226.27" cy="380.26" r="4.15" fill="#ffff00"/>
<circle cx="227.61" cy="324.56" r="4.15" fill="#ffff00"/>
<circle cx="228.95" cy="306.92" r="4.15" fill="#ffff00"/>
<circle cx="230.30" cy="366.60" r="4.15" fill="#ffff00"/>
<circle cx="231.64" cy="311.10" r="4.15" fill="#ffff00"/>
<circle cx="232.99" cy="384.21" r="4.15" fill="#ffff00"/>
<circle cx="234.33" cy="318.25" r="4.15" fill="#ffff00"/>
<circle cx="235.68" cy="335.37" r="4.15" fill="#ffff00"/>
<circle cx="237.03" cy="326.09" r="4.15" fill="#ffff00"/>
<circle cx="238.37" cy="304.15" r="4.15" fill="#ffff00"/>
<circle cx="239.72" cy="333.97" r="4.15" fill="#ffff00"/>
<circle cx="241.06" cy="347.47" r="4.15" fill="#ffff00"/>
<circle cx="242.41" cy="369.29" r="4.15" fill="#ffff00"/>
<circle cx="243.75" cy="371.43" r="4.15" fill="#ffff00"/>
<circle cx="245.09" cy="363.44" r="4.15" fill="#ffff00"/>
<circle cx="246.44" cy="295.22" r="4.15" fill="#ffff00"/>
<circle cx="247.78" cy="292.24" r="4.15" fill="#ffff00"/>
<circle cx="249.13" cy="342.02" r="4.15" fill="#ffff00"/>
<circle cx="250.47" cy="292.24" r="4.15" fill="#ffff00"/>
<circle cx="251.82" cy="338.02" r="4.15" fill="#ffff00"/>
<circle cx="253.17" cy="382.09" r="4.15" fill="#ffff00"/>
<circle cx="254.51" cy="292.24" r="4.15" fill="#ffff00"/>
<circle cx="255.86" cy="307.46" r="4.15" fill="#ffff00"/>
<circle cx="257.20" cy="375.24" r="4.15" fill="#ffff00"/>
<circle cx="258.55" cy="324.48" r="4.15" fill="#ffff00"/>
<circle cx="259.89" cy="326.31" r="4.15" fill="#ffff00"/>
<circle cx="261.24" cy="307.95" r="4.15" fill="#ffff00"/>
<circle cx="262.58" cy="304.95" r="4.15" fill="#ffff00"/>
<circle cx="263.92" cy="347.15" r="4.15" fill="#ffff00"/>
<circle cx="265.27" cy="331.47" r="4.15" fill="#ffff00"/>
<circle cx="266.62" cy="315.55" r="4.15" fill="#ffff00"/>
<circle cx="267.96" cy="371.91" r="4.15" fill="#ffff00"/>
<circle cx="269.31" cy="308.81" r="4.15" fill="#ffff00"/>
<circle cx="270.65" cy="334.45" r="4.15" fill="#ffff00"/>
<circle cx="272.00" cy="393.43" r="4.15" fill="#ffff00"/>
<circle cx="273.34" cy="363.32" r="4.15" fill="#ffff00"/>
<circle cx="274.69" cy="357.91" r="4.15" fill="#ffff00"/>
<circle cx="276.03" cy="292.24" r="4.15" fill="#ffff00"/>
<circle cx="277.38" cy="336.05" r="4.15" fill="#ffff00"/>
<circle cx="278.72" cy="328.70" r="4.15" fill="#ffff00"/>
<circle cx="280.06" cy="318.09" r="4.15" fill="#ffff00"/>
<circle cx="281.41" cy="374.76" r="4.15" fill="#ffff00"/>
<circle cx="282.75" cy="318.15" r="4.15" fill="#ffff00"/>
<circle cx="284.10" cy="354.10" r="4.15" fill="#ffff00"/>
<circle cx="285.44" cy="323.29" r="4.15" fill="#ffff00"/>
<circle cx="286.79" cy="292.24" r="4.15" fill="#ffff00"/>
<circle cx="288.13" cy="326.35" r="4.15" fill="#ffff00"/>
<circle cx="289.48" cy="351.73" r="4.15" fill="#ffff00"/>
<circle cx="290.83" cy="294.70" r="4.15" fill="#ffff00"/>
<circle cx="292.17" cy="362.23" r="4.15" fill="#ffff00"/>
<circle cx="293.51" cy="357.13" r="4.15" fill="#ffff00"/>
<circle cx="294.86" cy="317.18" r="4.15" fill="#ffff00"/>
<circle cx="296.20" cy="308.89" r="4.15" fill="#ffff00"/>
<circle cx="297.55" cy="310.79" r="4.15" fill="#ffff00"/>
<circle cx="298.89" cy="360.81" r="4.15" fill="#ffff00"/>
<circle cx="300.24" cy="312.93" r="4.15" fill="#ffff00"/>
<circle cx="301.58" cy="359.12" r="4.15" fill="#ffff00"/>
<circle cx="302.93" cy="347.04" r="4.15" fill="#ffff00"/>
<circle cx="304.27" cy="332.58" r="4.15" fill="#ffff00"/>
<circle cx="305.62" cy="306.74" r="4.15" fill="#ffff00"/>
<circle cx="306.96" cy="306.31" r="4.15" fill="#ffff00"/>
<circle cx="308.31" cy="333.07" r="4.15" fill="#ffff00"/>
<circle cx="309.65" cy="369.65" r="4.15" fill="#ffff00"/>
<circle cx="311.00" cy="355.16" r="4.15" fill="#ffff00"/>
<polyline points="43.34,367.43 44.69,361.76 46.03,287.04 47.38,329.58 48.73,317.17 50.07,347.48 51.41,363.87 52.76,338.48 54.11,327.56 55.45,307.14 56.80,315.09 58.14,361.60 59.48,381.85 60.83,363.15 62.17,298.39 63.52,287.75 64.87,322.98 66.21,327.64 67.56,379.49 68.90,306.34 70.25,317.42 71.59,307.14 72.94,287.04 74.28,339.21 75.62,369.79 76.97,342.68 78.31,304.06 79.66,342.97 81.00,352.94 82.35,291.06 83.69,348.99 85.04,360.04 86.39,279.00 87.73,335.25 89.07,334.24 90.42,270.49 91.77,344.09 93.11,372.16 94.45,338.41 95.80,331.68 97.14,323.25 98.49,315.12 99.84,379.49 101.18,332.95 102.53,370.26 103.87,323.06 105.22,363.41 106.56,365.70 107.91,302.17 109.25,292.01 110.59,340.61 111.94,366.78 113.28,337.12 114.63,352.81 115.98,332.87 117.32,304.06 118.66,338.14 120.01,320.24 121.35,363.76 122.70,304.06 124.05,342.95 125.39,323.85 126.73,365.06 128.08,306.43 129.43,339.03 130.77,329.72 132.12,335.09 133.46,357.38 134.81,369.08 136.15,325.84 137.50,276.64 138.84,353.48 140.19,304.06 141.53,306.43 142.88,347.32 144.22,348.99 145.56,304.54 146.91,323.38 148.25,337.12 149.60,318.02 150.94,349.27 152.29,303.12 153.63,376.88 154.98,317.09 156.32,339.65 157.67,311.78 159.01,324.62 160.36,286.33 161.70,334.32 163.05,352.85 164.40,274.98 165.74,289.41 167.09,321.73 168.43,381.85 169.77,327.76 171.12,304.17 172.47,344.74 173.81,326.02 175.16,372.16 176.50,326.96 177.84,304.54 179.19,331.48 180.53,332.98 181.88,333.50 183.22,349.19 184.57,357.55 185.92,381.85 187.26,376.88 188.61,345.13 189.95,325.29 191.30,306.79 192.64,291.77 193.98,317.53 195.33,376.88 196.67,316.00 198.02,321.54 199.36,289.41 200.71,300.05 202.06,323.13 203.40,333.48 204.75,365.06 206.09,321.66 207.44,306.43 208.78,304.06 210.12,372.16 211.47,343.75 212.81,273.56 214.16,351.11 215.50,383.50 216.85,272.62 218.19,304.06 219.54,332.25 220.89,317.65 222.23,377.83 223.58,289.41 224.92,300.05 226.27,381.85 227.61,319.60 228.95,301.70 230.30,359.99 231.64,304.06 232.99,372.16 234.33,304.06 235.68,333.61 237.03,322.04 238.37,300.05 239.72,334.61 241.06,354.93 242.41,369.79 243.75,370.50 245.09,359.39 246.44,294.37 247.78,287.99 249.13,339.42 250.47,269.55 251.82,329.65 253.17,388.23 254.51,268.84 255.86,314.74 257.20,377.59 258.55,322.91 259.89,335.97 261.24,303.59 262.58,309.94 263.92,352.45 265.27,321.23 266.62,305.25 267.96,365.77 269.31,314.81 270.65,343.03 272.00,381.61 273.34,370.26 274.69,355.38 276.03,277.82 277.38,332.40 278.72,326.56 280.06,306.05 281.41,368.14 282.75,309.98 284.10,357.34 285.44,337.12 286.79,287.28 288.13,324.13 289.48,340.33 290.83,292.01 292.17,372.16 293.51,370.26 294.86,320.96 296.20,304.06 297.55,316.98 298.89,354.19 300.24,302.17 301.58,355.60 302.93,345.45 304.27,332.71 305.62,307.61 306.96,304.06 308.31,334.33 309.65,365.77 311.00,349.22" fill="none" stroke="#d4009b" stroke-width="2.2" stroke-linejoin="round"/>
<circle cx="43.34" cy="367.43" r="4.15" fill="#d4009b"/>
<circle cx="44.69" cy="361.76" r="4.15" fill="#d4009b"/>
<circle cx="46.03" cy="287.04" r="4.15" fill="#d4009b"/>
<circle cx="47.38" cy="329.58" r="4.15" fill="#d4009b"/>
<circle cx="48.73" cy="317.17" r="4.15" fill="#d4009b"/>
<circle cx="50.07" cy="347.48" r="4.15" fill="#d4009b"/>
<circle cx="51.41" cy="363.87" r="4.15" fill="#d4009b"/>
<circle cx="52.76" cy="338.48" r="4.15" fill="#d4009b"/>
<circle cx="54.11" cy="327.56" r="4.15" fill="#d4009b"/>
<circle cx="55.45" cy="307.14" r="4.15" fill="#d4009b"/>
<circle cx="56.80" cy="315.09" r="4.15" fill="#d4009b"/>
<circle cx="58.14" cy="361.60" r="4.15" fill="#d4009b"/>
<circle cx="59.48" cy="381.85" r="4.15" fill="#d4009b"/>
<circle cx="60.83" cy="363.15" r="4.15" fill="#d4009b"/>
<circle cx="62.17" cy="298.39" r="4.15" fill="#d4009b"/>
<circle cx="63.52" cy="287.75" r="4.15" fill="#d4009b"/>
<circle cx="64.87" cy="322.98" r="4.15" fill="#d4009b"/>
<circle cx="66.21" cy="327.64" r="4.15" fill="#d4009b"/>
<circle cx="67.56" cy="379.49" r="4.15" fill="#d4009b"/>
<circle cx="68.90" cy="306.34" r="4.15" fill="#d4009b"/>
<circle cx="70.25" cy="317.42" r="4.15" fill="#d4009b"/>
<circle cx="71.59" cy="307.14" r="4.15" fill="#d4009b"/>
<circle cx="72.94" cy="287.04" r="4.15" fill="#d4009b"/>
<circle cx="74.28" cy="339.21" r="4.15" fill="#d4009b"/>
<circle cx="75.62" cy="369.79" r="4.15" fill="#d4009b"/>
<circle cx="76.97" cy="342.68" r="4.15" fill="#d4009b"/>
<circle cx="78.31" cy="304.06" r="4.15" fill="#d4009b"/>
<circle cx="79.66" cy="342.97" r="4.15" fill="#d4009b"/>
<circle cx="81.00" cy="352.94" r="4.15" fill="#d4009b"/>
<circle cx="82.35" cy="291.06" r="4.15" fill="#d4009b"/>
<circle cx="83.69" cy="348.99" r="4.15" fill="#d4009b"/>
<circle cx="85.04" cy="360.04" r="4.15" fill="#d4009b"/>
<circle cx="86.39" cy="279.00" r="4.15" fill="#d4009b"/>
<circle cx="87.73" cy="335.25" r="4.15" fill="#d4009b"/>
<circle cx="89.07" cy="334.24" r="4.15" fill="#d4009b"/>
<circle cx="90.42" cy="270.49" r="4.15" fill="#d4009b"/>
<circle cx="91.77" cy="344.09" r="4.15" fill="#d4009b"/>
<circle cx="93.11" cy="372.16" r="4.15" fill="#d4009b"/>
<circle cx="94.45" cy="338.41" r="4.15" fill="#d4009b"/>
<circle cx="95.80" cy="331.68" r="4.15" fill="#d4009b"/>
<circle cx="97.14" cy="323.25" r="4.15" fill="#d4009b"/>
<circle cx="98.49" cy="315.12" r="4.15" fill="#d4009b"/>
<circle cx="99.84" cy="379.49" r="4.15" fill="#d4009b"/>
<circle cx="101.18" cy="332.95" r="4.15" fill="#d4009b"/>
<circle cx="102.53" cy="370.26" r="4.15" fill="#d4009b"/>
<circle cx="103.87" cy="323.06" r="4.15" fill="#d4009b"/>
<circle cx="105.22" cy="363.41" r="4.15" fill="#d4009b"/>
<circle cx="106.56" cy="365.70" r="4.15" fill="#d4009b"/>
<circle cx="107.91" cy="302.17" r="4.15" fill="#d4009b"/>
<circle cx="109.25" cy="292.01" r="4.15" fill="#d4009b"/>
<circle cx="110.59" cy="340.61" r="4.15" fill="#d4009b"/>
<circle cx="111.94" cy="366.78" r="4.15" fill="#d4009b"/>
<circle cx="113.28" cy="337.12" r="4.15" fill="#d4009b"/>
<circle cx="114.63" cy="352.81" r="4.15" fill="#d4009b"/>
<circle cx="115.98" cy="332.87" r="4.15" fill="#d4009b"/>
<circle cx="117.32" cy="304.06" r="4.15" fill="#d4009b"/>
<circle cx="118.66" cy="338.14" r="4.15" fill="#d4009b"/>
<circle cx="120.01" cy="320.24" r="4.15" fill="#d4009b"/>
<circle cx="121.35" cy="363.76" r="4.15" fill="#d4009b"/>
<circle cx="122.70" cy="304.06" r="4.15" fill="#d4009b"/>
<circle cx="124.05" cy="342.95" r="4.15" fill="#d4009b"/>
<circle cx="125.39" cy="323.85" r="4.15" fill="#d4009b"/>
<circle cx="126.73" cy="365.06" r="4.15" fill="#d4009b"/>
<circle cx="128.08" cy="306.43" r="4.15" fill="#d4009b"/>
<circle cx="129.43" cy="339.03" r="4.15" fill="#d4009b"/>
<circle cx="130.77" cy="329.72" r="4.15" fill="#d4009b"/>
<circle cx="132.12" cy="335.09" r="4.15" fill="#d4009b"/>
<circle cx="133.46" cy="357.38" r="4.15" fill="#d4009b"/>
<circle cx="134.81" cy="369.08" r="4.15" fill="#d4009b"/>
<circle cx="136.15" cy="325.84" r="4.15" fill="#d4009b"/>
<circle cx="137.50" cy="276.64" r="4.15" fill="#d4009b"/>
<circle cx="138.84" cy="353.48" r="4.15" fill="#d4009b"/>
<circle cx="140.19" cy="304.06" r="4.15" fill="#d4009b"/>
<circle cx="141.53" cy="306.43" r="4.15" fill="#d4009b"/>
<circle cx="142.88" cy="347.32" r="4.15" fill="#d4009b"/>
<circle cx="144.22" cy="348.99" r="4.15" fill="#d4009b"/>
<circle cx="145.56" cy="304.54" r="4.15" fill="#d4009b"/>
<circle cx="146.91" cy="323.38" r="4.15" fill="#d4009b"/>
<circle cx="148.25" cy="337.12" r="4.15" fill="#d4009b"/>
<circle cx="149.60" cy="318.02" r="4.15" fill="#d4009b"/>
<circle cx="150.94" cy="349.27" r="4.15" fill="#d4009b"/>
<circle cx="152.29" cy="303.12" r="4.15" fill="#d4009b"/>
<circle cx="153.63" cy="376.88" r="4.15" fill="#d4009b"/>
<circle cx="154.98" cy="317.09" r="4.15" fill="#d4009b"/>
<circle cx="156.32" cy="339.65" r="4.15" fill="#d4009b"/>
<circle cx="157.67" cy="311.78" r="4.15" fill="#d4009b"/>
<circle cx="159.01" cy="324.62" r="4.15" fill="#d4009b"/>
<circle cx="160.36" cy="286.33" r="4.15" fill="#d4009b"/>
<circle cx="161.70" cy="334.32" r="4.15" fill="#d4009b"/>
<circle cx="163.05" cy="352.85" r="4.15" fill="#d4009b"/>
<circle cx="164.40" cy="274.98" r="4.15" fill="#d4009b"/>
<circle cx="165.74" cy="289.41" r="4.15" fill="#d4009b"/>
<circle cx="167.09" cy="321.73" r="4.15" fill="#d4009b"/>
<circle cx="168.43" cy="381.85" r="4.15" fill="#d4009b"/>
<circle cx="169.77" cy="327.76" r="4.15" fill="#d4009b"/>
<circle cx="171.12" cy="304.17" r="4.15" fill="#d4009b"/>
<circle cx="172.47" cy="344.74" r="4.15" fill="#d4009b"/>
<circle cx="173.81" cy="326.02" r="4.15" fill="#d4009b"/>
<circle cx="175.16" cy="372.16" r="4.15" fill="#d4009b"/>
<circle cx="176.50" cy="326.96" r="4.15" fill="#d4009b"/>
<circle cx="177.84" cy="304.54" r="4.15" fill="#d4009b"/>
<circle cx="179.19" cy="331.48" r="4.15" fill="#d4009b"/>
<circle cx="180.53" cy="332.98" r="4.15" fill="#d4009b"/>
<circle cx="181.88" cy="333.50" r="4.15" fill="#d4009b"/>
<circle cx="183.22" cy="349.19" r="4.15" fill="#d4009b"/>
<circle cx="184.57" cy="357.55" r="4.15" fill="#d4009b"/>
<circle cx="185.92" cy="381.85" r="4.15" fill="#d4009b"/>
<circle cx="187.26" cy="376.88" r="4.15" fill="#d4009b"/>
<circle cx="188.61" cy="345.13" r="4.15" fill="#d4009b"/>
<circle cx="189.95" cy="325.29" r="4.15" fill="#d4009b"/>
<circle cx="191.30" cy="306.79" r="4.15" fill="#d4009b"/>
<circle cx="192.64" cy="291.77" r="4.15" fill="#d4009b"/>
<circle cx="193.98" cy="317.53" r="4.15" fill="#d4009b"/>
<circle cx="195.33" cy="376.88" r="4.15" fill="#d4009b"/>
<circle cx="196.67" cy="316.00" r="4.15" fill="#d4009b"/>
<circle cx="198.02" cy="321.54" r="4.15" fill="#d4009b"/>
<circle cx="199.36" cy="289.41" r="4.15" fill="#d4009b"/>
<circle cx="200.71" cy="300.05" r="4.15" fill="#d4009b"/>
<circle cx="202.06" cy="323.13" r="4.15" fill="#d4009b"/>
<circle cx="203.40" cy="333.48" r="4.15" fill="#d4009b"/>
<circle cx="204.75" cy="365.06" r="4.15" fill="#d4009b"/>
<circle cx="206.09" cy="321.66" r="4.15" fill="#d4009b"/>
<circle cx="207.44" cy="306.43" r="4.15" fill="#d4009b"/>
<circle cx="208.78" cy="304.06" r="4.15" fill="#d4009b"/>
<circle cx="210.12" cy="372.16" r="4.15" fill="#d4009b"/>
<circle cx="211.47" cy="343.75" r="4.15" fill="#d4009b"/>
<circle cx="212.81" cy="273.56" r="4.15" fill="#d4009b"/>
<circle cx="214.16" cy="351.11" r="4.15" fill="#d4009b"/>
<circle cx="215.50" cy="383.50" r="4.15" fill="#d4009b"/>
<circle cx="216.85" cy="272.62" r="4.15" fill="#d4009b"/>
<circle cx="218.19" cy="304.06" r="4.15" fill="#d4009b"/>
<circle cx="219.54" cy="332.25" r="4.15" fill="#d4009b"/>
<circle cx="220.89" cy="317.65" r="4.15" fill="#d4009b"/>
<circle cx="222.23" cy="377.83" r="4.15" fill="#d4009b"/>
<circle cx="223.58" cy="289.41" r="4.15" fill="#d4009b"/>
<circle cx="224.92" cy="300.05" r="4.15" fill="#d4009b"/>
<circle cx="226.27" cy="381.85" r="4.15" fill="#d4009b"/>
<circle cx="227.61" cy="319.60" r="4.15" fill="#d4009b"/>
<circle cx="228.95" cy="301.70" r="4.15" fill="#d4009b"/>
<circle cx="230.30" cy="359.99" r="4.15" fill="#d4009b"/>
<circle cx="231.64" cy="304.06" r="4.15" fill="#d4009b"/>
<circle cx="232.99" cy="372.16" r="4.15" fill="#d4009b"/>
<circle cx="234.33" cy="304.06" r="4.15" fill="#d4009b"/>
<circle cx="235.68" cy="333.61" r="4.15" fill="#d4009b"/>
<circle cx="237.03" cy="322.04" r="4.15" fill="#d4009b"/>
<circle cx="238.37" cy="300.05" r="4.15" fill="#d4009b"/>
<circle cx="239.72" cy="334.61" r="4.15" fill="#d4009b"/>
<circle cx="241.06" cy="354.93" r="4.15" fill="#d4009b"/>
<circle cx="242.41" cy="369.79" r="4.15" fill="#d4009b"/>
<circle cx="243.75" cy="370.50" r="4.15" fill="#d4009b"/>
<circle cx="245.09" cy="359.39" r="4.15" fill="#d4009b"/>
<circle cx="246.44" cy="294.37" r="4.15" fill="#d4009b"/>
<circle cx="247.78" cy="287.99" r="4.15" fill="#d4009b"/>
<circle cx="249.13" cy="339.42" r="4.15" fill="#d4009b"/>
<circle cx="250.47" cy="269.55" r="4.15" fill="#d4009b"/>
<circle cx="251.82" cy="329.65" r="4.15" fill="#d4009b"/>
<circle cx="253.17" cy="388.23" r="4.15" fill="#d4009b"/>
<circle cx="254.51" cy="268.84" r="4.15" fill="#d4009b"/>
<circle cx="255.86" cy="314.74" r="4.15" fill="#d4009b"/>
<circle cx="257.20" cy="377.59" r="4.15" fill="#d4009b"/>
<circle cx="258.55" cy="322.91" r="4.15" fill="#d4009b"/>
<circle cx="259.89" cy="335.97" r="4.15" fill="#d4009b"/>
<circle cx="261.24" cy="303.59" r="4.15" fill="#d4009b"/>
<circle cx="262.58" cy="309.94" r="4.15" fill="#d4009b"/>
<circle cx="263.92" cy="352.45" r="4.15" fill="#d4009b"/>
<circle cx="265.27" cy="321.23" r="4.15" fill="#d4009b"/>
<circle cx="266.62" cy="305.25" r="4.15" fill="#d4009b"/>
<circle cx="267.96" cy="365.77" r="4.15" fill="#d4009b"/>
<circle cx="269.31" cy="314.81" r="4.15" fill="#d4009b"/>
<circle cx="270.65" cy="343.03" r="4.15" fill="#d4009b"/>
<circle cx="272.00" cy="381.61" r="4.15" fill="#d4009b"/>
<circle cx="273.34" cy="370.26" r="4.15" fill="#d4009b"/>
<circle cx="274.69" cy="355.38" r="4.15" fill="#d4009b"/>
<circle cx="276.03" cy="277.82" r="4.15" fill="#d4009b"/>
<circle cx="277.38" cy="332.40" r="4.15" fill="#d4009b"/>
<circle cx="278.72" cy="326.56" r="4.15" fill="#d4009b"/>
<circle cx="280.06" cy="306.05" r="4.15" fill="#d4009b"/>
<circle cx="281.41" cy="368.14" r="4.15" fill="#d4009b"/>
<circle cx="282.75" cy="309.98" r="4.15" fill="#d4009b"/>
<circle cx="284.10" cy="357.34" r="4.15" fill="#d4009b"/>
<circle cx="285.44" cy="337.12" r="4.15" fill="#d4009b"/>
<circle cx="286.79" cy="287.28" r="4.15" fill="#d4009b"/>
<circle cx="288.13" cy="324.13" r="4.15" fill="#d4009b"/>
<circle cx="289.48" cy="340.33" r="4.15" fill="#d4009b"/>
<circle cx="290.83" cy="292.01" r="4.15" fill="#d4009b"/>
<circle cx="292.17" cy="372.16" r="4.15" fill="#d4009b"/>
<circle cx="293.51" cy="370.26" r="4.15" fill="#d4009b"/>
<circle cx="294.86" cy="320.96" r="4.15" fill="#d4009b"/>
<circle cx="296.20" cy="304.06" r="4.15" fill="#d4009b"/>
<circle cx="297.55" cy="316.98" r="4.15" fill="#d4009b"/>
<circle cx="298.89" cy="354.19" r="4.15" fill="#d4009b"/>
<circle cx="300.24" cy="302.17" r="4.15" fill="#d4009b"/>
<circle cx="301.58" cy="355.60" r="4.15" fill="#d4009b"/>
<circle cx="302.93" cy="345.45" r="4.15" fill="#d4009b"/>
<circle cx="304.27" cy="332.71" r="4.15" fill="#d4009b"/>
<circle cx="305.62" cy="307.61" r="4.15" fill="#d4009b"/>
<circle cx="306.96" cy="304.06" r="4.15" fill="#d4009b"/>
<circle cx="308.31" cy="334.33" r="4.15" fill="#d4009b"/>
<circle cx="309.65" cy="365.77" r="4.15" fill="#d4009b"/>
<circle cx="311.00" cy="349.22" r="4.15" fill="#d4009b"/>
<rect x="400.00" y="235.80" width="271.00" height="165.20" fill="none" stroke="#000" stroke-width="2"/>
<polyline points="405.42,314.27 410.84,356.95 416.26,325.28 421.68,301.33 427.10,325.83 432.52,351.44 437.94,293.90 443.36,323.91 448.78,313.44 454.20,291.97 459.62,296.10 465.04,376.22 470.46,323.91 475.88,284.26 481.30,363.00 486.72,341.25 492.14,280.13 497.56,332.17 502.98,304.63 508.40,293.07 513.82,318.12 519.24,375.67 524.66,331.89 530.08,322.25 535.50,350.06 540.92,276.55 546.34,284.26 551.76,333.27 557.18,329.69 562.60,321.43 568.02,353.09 573.44,304.08 578.86,366.31 584.28,328.86 589.70,301.60 595.12,381.18 600.54,294.17 605.96,302.43 611.38,300.50 616.80,375.39 622.22,362.73 627.64,271.59 633.06,271.87 638.48,283.16 643.90,370.16 649.32,304.08 654.74,326.11 660.16,335.75 665.58,328.59 671.00,344.83" fill="none" stroke="#ffff00" stroke-width="2.2" stroke-linejoin="round"/>
<circle cx="405.42" cy="314.27" r="4.15" fill="#ffff00"/>
<circle cx="410.84" cy="356.95" r="4.15" fill="#ffff00"/>
<circle cx="416.26" cy="325.28" r="4.15" fill="#ffff00"/>
<circle cx="421.68" cy="301.33" r="4.15" fill="#ffff00"/>
<circle cx="427.10" cy="325.83" r="4.15" fill="#ffff00"/>
<circle cx="432.52" cy="351.44" r="4.15" fill="#ffff00"/>
<circle cx="437.94" cy="293.90" r="4.15" fill="#ffff00"/>
<circle cx="443.36" cy="323.91" r="4.15" fill="#ffff00"/>
<circle cx="448.78" cy="313.44" r="4.15" fill="#ffff00"/>
<circle cx="454.20" cy="291.97" r="4.15" fill="#ffff00"/>
<circle cx="459.62" cy="296.10" r="4.15" fill="#ffff00"/>
<circle cx="465.04" cy="376.22" r="4.15" fill="#ffff00"/>
<circle cx="470.46" cy="323.91" r="4.15" fill="#ffff00"/>
<circle cx="475.88" cy="284.26" r="4.15" fill="#ffff00"/>
<circle cx="481.30" cy="363.00" r="4.15" fill="#ffff00"/>
<circle cx="486.72" cy="341.25" r="4.15" fill="#ffff00"/>
<circle cx="492.14" cy="280.13" r="4.15" fill="#ffff00"/>
<circle cx="497.56" cy="332.17" r="4.15" fill="#ffff00"/>
<circle cx="502.98" cy="304.63" r="4.15" fill="#ffff00"/>
<circle cx="508.40" cy="293.07" r="4.15" fill="#ffff00"/>
<circle cx="513.82" cy="318.12" r="4.15" fill="#ffff00"/>
<circle cx="519.24" cy="375.67" r="4.15" fill="#ffff00"/>
<circle cx="524.66" cy="331.89" r="4.15" fill="#ffff00"/>
<circle cx="530.08" cy="322.25" r="4.15" fill="#ffff00"/>
<circle cx="535.50" cy="350.06" r="4.15" fill="#ffff00"/>
<circle cx="540.92" cy="276.55" r="4.15" fill="#ffff00"/>
<circle cx="546.34" cy="284.26" r="4.15" fill="#ffff00"/>
<circle cx="551.76" cy="333.27" r="4.15" fill="#ffff00"/>
<circle cx="557.18" cy="329.69" r="4.15" fill="#ffff00"/>
<circle cx="562.60" cy="321.43" r="4.15" fill="#ffff00"/>
<circle cx="568.02" cy="353.09" r="4.15" fill="#ffff00"/>
<circle cx="573.44" cy="304.08" r="4.15" fill="#ffff00"/>
<circle cx="578.86" cy="366.31" r="4.15" fill="#ffff00"/>
<circle cx="584.28" cy="328.86" r="4.15" fill="#ffff00"/>
<circle cx="589.70" cy="301.60" r="4.15" fill="#ffff00"/>
<circle cx="595.12" cy="381.18" r="4.15" fill="#ffff00"/>
<circle cx="600.54" cy="294.17" r="4.15" fill="#ffff00"/>
<circle cx="605.96" cy="302.43" r="4.15" fill="#ffff00"/>
<circle cx="611.38" cy="300.50" r="4.15" fill="#ffff00"/>
<circle cx="616.80" cy="375.39" r="4.15" fill="#ffff00"/>
<circle cx="622.22" cy="362.73" r="4.15" fill="#ffff00"/>
<circle cx="627.64" cy="271.59" r="4.15" fill="#ffff00"/>
<circle cx="633.06" cy="271.87" r="4.15" fill="#ffff00"/>
<circle cx="638.48" cy="283.16" r="4.15" fill="#ffff00"/>
<circle cx="643.90" cy="370.16" r="4.15" fill="#ffff00"/>
<circle cx="649.32" cy="304.08" r="4.15" fill="#ffff00"/>
<circle cx="654.74" cy="326.11" r="4.15" fill="#ffff00"/>
<circle cx="660.16" cy="335.75" r="4.15" fill="#ffff00"/>
<circle cx="665.58" cy="328.59" r="4.15" fill="#ffff00"/>
<circle cx="671.00" cy="344.83" r="4.15" fill="#ffff00"/>
<polyline points="405.42,300.50 410.84,363.00 416.26,323.63 421.68,313.99 427.10,362.73 432.52,354.19 437.94,287.56 443.36,326.11 448.78,304.08 454.20,329.14 459.62,282.33 465.04,367.41 470.46,325.28 475.88,303.53 481.30,356.67 486.72,325.01 492.14,265.54 497.56,326.38 502.98,294.45 508.40,285.08 513.82,310.97 519.24,364.93 524.66,329.41 530.08,331.89 535.50,360.25 540.92,256.17 546.34,272.42 551.76,338.22 557.18,347.03 562.60,318.68 568.02,351.16 573.44,293.34 578.86,380.07 584.28,331.89 589.70,312.62 595.12,364.93 600.54,321.15 605.96,293.62 611.38,307.11 616.80,376.22 622.22,360.80 627.64,270.77 633.06,253.42 638.48,272.42 643.90,351.44 649.32,296.10 654.74,318.12 660.16,329.41 665.58,329.41 671.00,332.99" fill="none" stroke="#d4009b" stroke-width="2.2" stroke-linejoin="round"/>
<circle cx="405.42" cy="300.50" r="4.15" fill="#d4009b"/>
<circle cx="410.84" cy="363.00" r="4.15" fill="#d4009b"/>
<circle cx="416.26" cy="323.63" r="4.15" fill="#d4009b"/>
<circle cx="421.68" cy="313.99" r="4.15" fill="#d4009b"/>
<circle cx="427.10" cy="362.73" r="4.15" fill="#d4009b"/>
<circle cx="432.52" cy="354.19" r="4.15" fill="#d4009b"/>
<circle cx="437.94" cy="287.56" r="4.15" fill="#d4009b"/>
<circle cx="443.36" cy="326.11" r="4.15" fill="#d4009b"/>
<circle cx="448.78" cy="304.08" r="4.15" fill="#d4009b"/>
<circle cx="454.20" cy="329.14" r="4.15" fill="#d4009b"/>
<circle cx="459.62" cy="282.33" r="4.15" fill="#d4009b"/>
<circle cx="465.04" cy="367.41" r="4.15" fill="#d4009b"/>
<circle cx="470.46" cy="325.28" r="4.15" fill="#d4009b"/>
<circle cx="475.88" cy="303.53" r="4.15" fill="#d4009b"/>
<circle cx="481.30" cy="356.67" r="4.15" fill="#d4009b"/>
<circle cx="486.72" cy="325.01" r="4.15" fill="#d4009b"/>
<circle cx="492.14" cy="265.54" r="4.15" fill="#d4009b"/>
<circle cx="497.56" cy="326.38" r="4.15" fill="#d4009b"/>
<circle cx="502.98" cy="294.45" r="4.15" fill="#d4009b"/>
<circle cx="508.40" cy="285.08" r="4.15" fill="#d4009b"/>
<circle cx="513.82" cy="310.97" r="4.15" fill="#d4009b"/>
<circle cx="519.24" cy="364.93" r="4.15" fill="#d4009b"/>
<circle cx="524.66" cy="329.41" r="4.15" fill="#d4009b"/>
<circle cx="530.08" cy="331.89" r="4.15" fill="#d4009b"/>
<circle cx="535.50" cy="360.25" r="4.15" fill="#d4009b"/>
<circle cx="540.92" cy="256.17" r="4.15" fill="#d4009b"/>
<circle cx="546.34" cy="272.42" r="4.15" fill="#d4009b"/>
<circle cx="551.76" cy="338.22" r="4.15" fill="#d4009b"/>
<circle cx="557.18" cy="347.03" r="4.15" fill="#d4009b"/>
<circle cx="562.60" cy="318.68" r="4.15" fill="#d4009b"/>
<circle cx="568.02" cy="351.16" r="4.15" fill="#d4009b"/>
<circle cx="573.44" cy="293.34" r="4.15" fill="#d4009b"/>
<circle cx="578.86" cy="380.07" r="4.15" fill="#d4009b"/>
<circle cx="584.28" cy="331.89" r="4.15" fill="#d4009b"/>
<circle cx="589.70" cy="312.62" r="4.15" fill="#d4009b"/>
<circle cx="595.12" cy="364.93" r="4.15" fill="#d4009b"/>
<circle cx="600.54" cy="321.15" r="4.15" fill="#d4009b"/>
<circle cx="605.96" cy="293.62" r="4.15" fill="#d4009b"/>
<circle cx="611.38" cy="307.11" r="4.15" fill="#d4009b"/>
<circle cx="616.80" cy="376.22" r="4.15" fill="#d4009b"/>
<circle cx="622.22" cy="360.80" r="4.15" fill="#d4009b"/>
<circle cx="627.64" cy="270.77" r="4.15" fill="#d4009b"/>
<circle cx="633.06" cy="253.42" r="4.15" fill="#d4009b"/>
<circle cx="638.48" cy="272.42" r="4.15" fill="#d4009b"/>
<circle cx="643.90" cy="351.44" r="4.15" fill="#d4009b"/>
<circle cx="649.32" cy="296.10" r="4.15" fill="#d4009b"/>
<circle cx="654.74" cy="318.12" r="4.15" fill="#d4009b"/>
<circle cx="660.16" cy="329.41" r="4.15" fill="#d4009b"/>
<circle cx="665.58" cy="329.41" r="4.15" fill="#d4009b"/>
<circle cx="671.00" cy="332.99" r="4.15" fill="#d4009b"/>
<rect x="79.00" y="244.40" width="30.00" height="9" fill="#fff"/>
<rect x="178.40" y="244.40" width="30.00" height="9" fill="#fff"/>
<line x1="80.00" y1="248.90" x2="108.00" y2="248.90" stroke="#ffff00" stroke-width="2.2"/>
<circle cx="94.00" cy="248.90" r="3.9" fill="#ffff00"/>
<text x="110.70" y="252.70" font-size="12" font-weight="bold" text-anchor="start" fill="#000">Predicted</text>
<line x1="179.40" y1="248.90" x2="207.40" y2="248.90" stroke="#d4009b" stroke-width="2.2"/>
<circle cx="193.40" cy="248.90" r="3.9" fill="#d4009b"/>
<text x="210.00" y="252.70" font-size="12" font-weight="bold" text-anchor="start" fill="#000">Experimental</text>
<rect x="414.00" y="243.30" width="30.00" height="9" fill="#fff"/>
<rect x="511.00" y="243.30" width="30.00" height="9" fill="#fff"/>
<line x1="415.00" y1="247.80" x2="443.00" y2="247.80" stroke="#ffff00" stroke-width="2.2"/>
<circle cx="429.00" cy="247.80" r="3.9" fill="#ffff00"/>
<text x="445.70" y="251.60" font-size="12" font-weight="bold" text-anchor="start" fill="#000">Predicted</text>
<line x1="512.00" y1="247.80" x2="540.00" y2="247.80" stroke="#d4009b" stroke-width="2.2"/>
<circle cx="526.00" cy="247.80" r="3.9" fill="#d4009b"/>
<text x="543.00" y="251.60" font-size="12" font-weight="bold" text-anchor="start" fill="#000">Experimental</text>
<text transform="translate(31.20 406.70) scale(1 1.03)" font-size="12.7" text-anchor="end" fill="#000">0</text>
<text transform="translate(31.20 383.06) scale(1 1.03)" font-size="12.7" text-anchor="end" fill="#000">10</text>
<text transform="translate(31.20 359.41) scale(1 1.03)" font-size="12.7" text-anchor="end" fill="#000">20</text>
<text transform="translate(31.20 335.77) scale(1 1.03)" font-size="12.7" text-anchor="end" fill="#000">30</text>
<text transform="translate(31.20 312.13) scale(1 1.03)" font-size="12.7" text-anchor="end" fill="#000">40</text>
<text transform="translate(31.20 288.49) scale(1 1.03)" font-size="12.7" text-anchor="end" fill="#000">50</text>
<text transform="translate(31.20 264.84) scale(1 1.03)" font-size="12.7" text-anchor="end" fill="#000">60</text>
<text transform="translate(31.20 241.20) scale(1 1.03)" font-size="12.7" text-anchor="end" fill="#000">70</text>
<text transform="translate(42.00 420.40) scale(1 1.03)" font-size="12.7" text-anchor="middle" fill="#000">0</text>
<text transform="translate(109.25 420.40) scale(1 1.03)" font-size="12.7" text-anchor="middle" fill="#000">50</text>
<text transform="translate(176.50 420.40) scale(1 1.03)" font-size="12.7" text-anchor="middle" fill="#000">100</text>
<text transform="translate(243.75 420.40) scale(1 1.03)" font-size="12.7" text-anchor="middle" fill="#000">150</text>
<text transform="translate(311.00 420.40) scale(1 1.03)" font-size="12.7" text-anchor="middle" fill="#000">200</text>
<text transform="translate(389.30 406.70) scale(1 1.03)" font-size="12.7" text-anchor="end" fill="#000">0</text>
<text transform="translate(389.30 379.17) scale(1 1.03)" font-size="12.7" text-anchor="end" fill="#000">10</text>
<text transform="translate(389.30 351.63) scale(1 1.03)" font-size="12.7" text-anchor="end" fill="#000">20</text>
<text transform="translate(389.30 324.10) scale(1 1.03)" font-size="12.7" text-anchor="end" fill="#000">30</text>
<text transform="translate(389.30 296.57) scale(1 1.03)" font-size="12.7" text-anchor="end" fill="#000">40</text>
<text transform="translate(389.30 269.03) scale(1 1.03)" font-size="12.7" text-anchor="end" fill="#000">50</text>
<text transform="translate(389.30 241.50) scale(1 1.03)" font-size="12.7" text-anchor="end" fill="#000">60</text>
<text transform="translate(400.00 420.20) scale(1 1.03)" font-size="12.7" text-anchor="middle" fill="#000">200</text>
<text transform="translate(454.20 420.20) scale(1 1.03)" font-size="12.7" text-anchor="middle" fill="#000">210</text>
<text transform="translate(508.40 420.20) scale(1 1.03)" font-size="12.7" text-anchor="middle" fill="#000">220</text>
<text transform="translate(562.60 420.20) scale(1 1.03)" font-size="12.7" text-anchor="middle" fill="#000">230</text>
<text transform="translate(616.80 420.20) scale(1 1.03)" font-size="12.7" text-anchor="middle" fill="#000">240</text>
<text transform="translate(671.00 420.20) scale(1 1.03)" font-size="12.7" text-anchor="middle" fill="#000">250</text>
<text x="185.00" y="435.80" font-size="13.5" font-weight="bold" text-anchor="middle" fill="#000">Row Number</text>
<text x="545.00" y="435.50" font-size="13.5" font-weight="bold" text-anchor="middle" fill="#000">Row Number</text>
<text x="161.30" y="454.40" font-size="14" text-anchor="middle" fill="#000">(c)</text>
<text x="521.20" y="454.40" font-size="14" text-anchor="middle" fill="#000">(d)</text>
<text x="8.50" y="315.50" font-size="13.5" font-weight="bold" text-anchor="middle" fill="#000" transform="rotate(-90 8.50 315.50)">Fc (MPa)</text>
<text x="368.40" y="311.70" font-size="13.5" font-weight="bold" text-anchor="middle" fill="#000" transform="rotate(-90 368.40 311.70)">Fc (MPa)</text>
<rect x="35.60" y="468.50" width="275.40" height="160.50" fill="none" stroke="#000" stroke-width="2"/>
<polyline points="36.98,561.59 38.35,579.84 39.73,583.52 41.11,567.85 42.48,570.40 43.86,569.08 45.24,591.01 46.62,559.99 47.99,581.84 49.37,570.77 50.75,556.24 52.12,568.65 53.50,543.93 54.88,580.21 56.25,572.26 57.63,567.79 59.01,584.06 60.39,578.69 61.76,583.31 63.14,593.69 64.52,570.44 65.89,579.43 67.27,580.07 68.65,574.24 70.03,567.48 71.40,580.16 72.78,570.65 74.16,579.99 75.53,577.03 76.91,571.55 78.29,592.09 79.66,572.56 81.04,571.00 82.42,571.41 83.79,569.08 85.17,570.78 86.55,577.90 87.93,583.01 89.30,526.82 90.68,581.45 92.06,576.82 93.43,578.15 94.81,600.11 96.19,564.80 97.56,572.19 98.94,572.73 100.32,573.70 101.70,549.82 103.07,582.50 104.45,569.44 105.83,574.27 107.20,548.75 108.58,568.69 109.96,580.31 111.34,580.25 112.71,578.19 114.09,563.73 115.47,582.99 116.84,568.15 118.22,570.24 119.60,578.09 120.97,582.74 122.35,582.75 123.73,566.94 125.10,581.62 126.48,564.80 127.86,571.73 129.24,568.64 130.61,526.82 131.99,570.65 133.37,577.97 134.74,558.91 136.12,584.06 137.50,577.24 138.88,568.09 140.25,573.63 141.63,570.93 143.01,585.66 144.38,582.15 145.76,573.69 147.14,581.87 148.51,573.41 149.89,584.06 151.27,561.59 152.64,558.91 154.02,577.37 155.40,566.94 156.78,582.41 158.15,567.98 159.53,580.60 160.91,583.19 162.28,573.89 163.66,611.35 165.04,578.84 166.41,571.46 167.79,562.12 169.17,571.44 170.55,574.34 171.92,539.65 173.30,582.44 174.68,579.41 176.05,594.76 177.43,567.48 178.81,569.29 180.19,568.02 181.56,577.23 182.94,578.82 184.32,558.91 185.69,582.15 187.07,563.73 188.45,570.47 189.82,580.08 191.20,584.06 192.58,568.83 193.95,572.49 195.33,569.08 196.71,581.75 198.09,586.20 199.46,557.31 200.84,582.24 202.22,573.50 203.59,525.75 204.97,568.31 206.35,569.09 207.72,555.17 209.10,579.39 210.48,577.06 211.86,557.31 213.23,572.33 214.61,576.64 215.99,567.54 217.36,599.04 218.74,578.18 220.12,541.26 221.50,572.08 222.87,570.47 224.25,579.28 225.63,569.96 227.00,581.87 228.38,598.50 229.76,599.04 231.13,587.27 232.51,563.73 233.89,577.37 235.26,561.05 236.64,581.71 238.02,571.34 239.40,557.31 240.77,581.86 242.15,523.61 243.53,574.36 244.90,562.66 246.28,589.95 247.66,572.69 249.03,570.60 250.41,567.70 251.79,581.01 253.17,580.39 254.54,579.26 255.92,519.86 257.30,549.82 258.67,579.25 260.05,582.52 261.43,584.60 262.80,557.31 264.18,579.56 265.56,571.50 266.94,570.27 268.31,590.48 269.69,570.74 271.07,610.27 272.44,569.87 273.82,554.10 275.20,569.81 276.57,574.24 277.95,580.64 279.33,579.41 280.71,528.42 282.08,574.06 283.46,569.23 284.84,561.05 286.21,580.62 287.59,573.92 288.97,579.56 290.35,572.68 291.72,553.57 293.10,576.89 294.48,583.09 295.85,573.43 297.23,580.77 298.61,576.92 299.98,571.26 301.36,582.56 302.74,562.66 304.12,570.76 305.49,579.10 306.87,581.22 308.25,570.25 309.62,557.31 311.00,571.90" fill="none" stroke="#d4009b" stroke-width="2.2" stroke-linejoin="round"/>
<circle cx="36.98" cy="561.59" r="4.15" fill="#d4009b"/>
<circle cx="38.35" cy="579.84" r="4.15" fill="#d4009b"/>
<circle cx="39.73" cy="583.52" r="4.15" fill="#d4009b"/>
<circle cx="41.11" cy="567.85" r="4.15" fill="#d4009b"/>
<circle cx="42.48" cy="570.40" r="4.15" fill="#d4009b"/>
<circle cx="43.86" cy="569.08" r="4.15" fill="#d4009b"/>
<circle cx="45.24" cy="591.01" r="4.15" fill="#d4009b"/>
<circle cx="46.62" cy="559.99" r="4.15" fill="#d4009b"/>
<circle cx="47.99" cy="581.84" r="4.15" fill="#d4009b"/>
<circle cx="49.37" cy="570.77" r="4.15" fill="#d4009b"/>
<circle cx="50.75" cy="556.24" r="4.15" fill="#d4009b"/>
<circle cx="52.12" cy="568.65" r="4.15" fill="#d4009b"/>
<circle cx="53.50" cy="543.93" r="4.15" fill="#d4009b"/>
<circle cx="54.88" cy="580.21" r="4.15" fill="#d4009b"/>
<circle cx="56.25" cy="572.26" r="4.15" fill="#d4009b"/>
<circle cx="57.63" cy="567.79" r="4.15" fill="#d4009b"/>
<circle cx="59.01" cy="584.06" r="4.15" fill="#d4009b"/>
<circle cx="60.39" cy="578.69" r="4.15" fill="#d4009b"/>
<circle cx="61.76" cy="583.31" r="4.15" fill="#d4009b"/>
<circle cx="63.14" cy="593.69" r="4.15" fill="#d4009b"/>
<circle cx="64.52" cy="570.44" r="4.15" fill="#d4009b"/>
<circle cx="65.89" cy="579.43" r="4.15" fill="#d4009b"/>
<circle cx="67.27" cy="580.07" r="4.15" fill="#d4009b"/>
<circle cx="68.65" cy="574.24" r="4.15" fill="#d4009b"/>
<circle cx="70.03" cy="567.48" r="4.15" fill="#d4009b"/>
<circle cx="71.40" cy="580.16" r="4.15" fill="#d4009b"/>
<circle cx="72.78" cy="570.65" r="4.15" fill="#d4009b"/>
<circle cx="74.16" cy="579.99" r="4.15" fill="#d4009b"/>
<circle cx="75.53" cy="577.03" r="4.15" fill="#d4009b"/>
<circle cx="76.91" cy="571.55" r="4.15" fill="#d4009b"/>
<circle cx="78.29" cy="592.09" r="4.15" fill="#d4009b"/>
<circle cx="79.66" cy="572.56" r="4.15" fill="#d4009b"/>
<circle cx="81.04" cy="571.00" r="4.15" fill="#d4009b"/>
<circle cx="82.42" cy="571.41" r="4.15" fill="#d4009b"/>
<circle cx="83.79" cy="569.08" r="4.15" fill="#d4009b"/>
<circle cx="85.17" cy="570.78" r="4.15" fill="#d4009b"/>
<circle cx="86.55" cy="577.90" r="4.15" fill="#d4009b"/>
<circle cx="87.93" cy="583.01" r="4.15" fill="#d4009b"/>
<circle cx="89.30" cy="526.82" r="4.15" fill="#d4009b"/>
<circle cx="90.68" cy="581.45" r="4.15" fill="#d4009b"/>
<circle cx="92.06" cy="576.82" r="4.15" fill="#d4009b"/>
<circle cx="93.43" cy="578.15" r="4.15" fill="#d4009b"/>
<circle cx="94.81" cy="600.11" r="4.15" fill="#d4009b"/>
<circle cx="96.19" cy="564.80" r="4.15" fill="#d4009b"/>
<circle cx="97.56" cy="572.19" r="4.15" fill="#d4009b"/>
<circle cx="98.94" cy="572.73" r="4.15" fill="#d4009b"/>
<circle cx="100.32" cy="573.70" r="4.15" fill="#d4009b"/>
<circle cx="101.70" cy="549.82" r="4.15" fill="#d4009b"/>
<circle cx="103.07" cy="582.50" r="4.15" fill="#d4009b"/>
<circle cx="104.45" cy="569.44" r="4.15" fill="#d4009b"/>
<circle cx="105.83" cy="574.27" r="4.15" fill="#d4009b"/>
<circle cx="107.20" cy="548.75" r="4.15" fill="#d4009b"/>
<circle cx="108.58" cy="568.69" r="4.15" fill="#d4009b"/>
<circle cx="109.96" cy="580.31" r="4.15" fill="#d4009b"/>
<circle cx="111.34" cy="580.25" r="4.15" fill="#d4009b"/>
<circle cx="112.71" cy="578.19" r="4.15" fill="#d4009b"/>
<circle cx="114.09" cy="563.73" r="4.15" fill="#d4009b"/>
<circle cx="115.47" cy="582.99" r="4.15" fill="#d4009b"/>
<circle cx="116.84" cy="568.15" r="4.15" fill="#d4009b"/>
<circle cx="118.22" cy="570.24" r="4.15" fill="#d4009b"/>
<circle cx="119.60" cy="578.09" r="4.15" fill="#d4009b"/>
<circle cx="120.97" cy="582.74" r="4.15" fill="#d4009b"/>
<circle cx="122.35" cy="582.75" r="4.15" fill="#d4009b"/>
<circle cx="123.73" cy="566.94" r="4.15" fill="#d4009b"/>
<circle cx="125.10" cy="581.62" r="4.15" fill="#d4009b"/>
<circle cx="126.48" cy="564.80" r="4.15" fill="#d4009b"/>
<circle cx="127.86" cy="571.73" r="4.15" fill="#d4009b"/>
<circle cx="129.24" cy="568.64" r="4.15" fill="#d4009b"/>
<circle cx="130.61" cy="526.82" r="4.15" fill="#d4009b"/>
<circle cx="131.99" cy="570.65" r="4.15" fill="#d4009b"/>
<circle cx="133.37" cy="577.97" r="4.15" fill="#d4009b"/>
<circle cx="134.74" cy="558.91" r="4.15" fill="#d4009b"/>
<circle cx="136.12" cy="584.06" r="4.15" fill="#d4009b"/>
<circle cx="137.50" cy="577.24" r="4.15" fill="#d4009b"/>
<circle cx="138.88" cy="568.09" r="4.15" fill="#d4009b"/>
<circle cx="140.25" cy="573.63" r="4.15" fill="#d4009b"/>
<circle cx="141.63" cy="570.93" r="4.15" fill="#d4009b"/>
<circle cx="143.01" cy="585.66" r="4.15" fill="#d4009b"/>
<circle cx="144.38" cy="582.15" r="4.15" fill="#d4009b"/>
<circle cx="145.76" cy="573.69" r="4.15" fill="#d4009b"/>
<circle cx="147.14" cy="581.87" r="4.15" fill="#d4009b"/>
<circle cx="148.51" cy="573.41" r="4.15" fill="#d4009b"/>
<circle cx="149.89" cy="584.06" r="4.15" fill="#d4009b"/>
<circle cx="151.27" cy="561.59" r="4.15" fill="#d4009b"/>
<circle cx="152.64" cy="558.91" r="4.15" fill="#d4009b"/>
<circle cx="154.02" cy="577.37" r="4.15" fill="#d4009b"/>
<circle cx="155.40" cy="566.94" r="4.15" fill="#d4009b"/>
<circle cx="156.78" cy="582.41" r="4.15" fill="#d4009b"/>
<circle cx="158.15" cy="567.98" r="4.15" fill="#d4009b"/>
<circle cx="159.53" cy="580.60" r="4.15" fill="#d4009b"/>
<circle cx="160.91" cy="583.19" r="4.15" fill="#d4009b"/>
<circle cx="162.28" cy="573.89" r="4.15" fill="#d4009b"/>
<circle cx="163.66" cy="611.35" r="4.15" fill="#d4009b"/>
<circle cx="165.04" cy="578.84" r="4.15" fill="#d4009b"/>
<circle cx="166.41" cy="571.46" r="4.15" fill="#d4009b"/>
<circle cx="167.79" cy="562.12" r="4.15" fill="#d4009b"/>
<circle cx="169.17" cy="571.44" r="4.15" fill="#d4009b"/>
<circle cx="170.55" cy="574.34" r="4.15" fill="#d4009b"/>
<circle cx="171.92" cy="539.65" r="4.15" fill="#d4009b"/>
<circle cx="173.30" cy="582.44" r="4.15" fill="#d4009b"/>
<circle cx="174.68" cy="579.41" r="4.15" fill="#d4009b"/>
<circle cx="176.05" cy="594.76" r="4.15" fill="#d4009b"/>
<circle cx="177.43" cy="567.48" r="4.15" fill="#d4009b"/>
<circle cx="178.81" cy="569.29" r="4.15" fill="#d4009b"/>
<circle cx="180.19" cy="568.02" r="4.15" fill="#d4009b"/>
<circle cx="181.56" cy="577.23" r="4.15" fill="#d4009b"/>
<circle cx="182.94" cy="578.82" r="4.15" fill="#d4009b"/>
<circle cx="184.32" cy="558.91" r="4.15" fill="#d4009b"/>
<circle cx="185.69" cy="582.15" r="4.15" fill="#d4009b"/>
<circle cx="187.07" cy="563.73" r="4.15" fill="#d4009b"/>
<circle cx="188.45" cy="570.47" r="4.15" fill="#d4009b"/>
<circle cx="189.82" cy="580.08" r="4.15" fill="#d4009b"/>
<circle cx="191.20" cy="584.06" r="4.15" fill="#d4009b"/>
<circle cx="192.58" cy="568.83" r="4.15" fill="#d4009b"/>
<circle cx="193.95" cy="572.49" r="4.15" fill="#d4009b"/>
<circle cx="195.33" cy="569.08" r="4.15" fill="#d4009b"/>
<circle cx="196.71" cy="581.75" r="4.15" fill="#d4009b"/>
<circle cx="198.09" cy="586.20" r="4.15" fill="#d4009b"/>
<circle cx="199.46" cy="557.31" r="4.15" fill="#d4009b"/>
<circle cx="200.84" cy="582.24" r="4.15" fill="#d4009b"/>
<circle cx="202.22" cy="573.50" r="4.15" fill="#d4009b"/>
<circle cx="203.59" cy="525.75" r="4.15" fill="#d4009b"/>
<circle cx="204.97" cy="568.31" r="4.15" fill="#d4009b"/>
<circle cx="206.35" cy="569.09" r="4.15" fill="#d4009b"/>
<circle cx="207.72" cy="555.17" r="4.15" fill="#d4009b"/>
<circle cx="209.10" cy="579.39" r="4.15" fill="#d4009b"/>
<circle cx="210.48" cy="577.06" r="4.15" fill="#d4009b"/>
<circle cx="211.86" cy="557.31" r="4.15" fill="#d4009b"/>
<circle cx="213.23" cy="572.33" r="4.15" fill="#d4009b"/>
<circle cx="214.61" cy="576.64" r="4.15" fill="#d4009b"/>
<circle cx="215.99" cy="567.54" r="4.15" fill="#d4009b"/>
<circle cx="217.36" cy="599.04" r="4.15" fill="#d4009b"/>
<circle cx="218.74" cy="578.18" r="4.15" fill="#d4009b"/>
<circle cx="220.12" cy="541.26" r="4.15" fill="#d4009b"/>
<circle cx="221.50" cy="572.08" r="4.15" fill="#d4009b"/>
<circle cx="222.87" cy="570.47" r="4.15" fill="#d4009b"/>
<circle cx="224.25" cy="579.28" r="4.15" fill="#d4009b"/>
<circle cx="225.63" cy="569.96" r="4.15" fill="#d4009b"/>
<circle cx="227.00" cy="581.87" r="4.15" fill="#d4009b"/>
<circle cx="228.38" cy="598.50" r="4.15" fill="#d4009b"/>
<circle cx="229.76" cy="599.04" r="4.15" fill="#d4009b"/>
<circle cx="231.13" cy="587.27" r="4.15" fill="#d4009b"/>
<circle cx="232.51" cy="563.73" r="4.15" fill="#d4009b"/>
<circle cx="233.89" cy="577.37" r="4.15" fill="#d4009b"/>
<circle cx="235.26" cy="561.05" r="4.15" fill="#d4009b"/>
<circle cx="236.64" cy="581.71" r="4.15" fill="#d4009b"/>
<circle cx="238.02" cy="571.34" r="4.15" fill="#d4009b"/>
<circle cx="239.40" cy="557.31" r="4.15" fill="#d4009b"/>
<circle cx="240.77" cy="581.86" r="4.15" fill="#d4009b"/>
<circle cx="242.15" cy="523.61" r="4.15" fill="#d4009b"/>
<circle cx="243.53" cy="574.36" r="4.15" fill="#d4009b"/>
<circle cx="244.90" cy="562.66" r="4.15" fill="#d4009b"/>
<circle cx="246.28" cy="589.95" r="4.15" fill="#d4009b"/>
<circle cx="247.66" cy="572.69" r="4.15" fill="#d4009b"/>
<circle cx="249.03" cy="570.60" r="4.15" fill="#d4009b"/>
<circle cx="250.41" cy="567.70" r="4.15" fill="#d4009b"/>
<circle cx="251.79" cy="581.01" r="4.15" fill="#d4009b"/>
<circle cx="253.17" cy="580.39" r="4.15" fill="#d4009b"/>
<circle cx="254.54" cy="579.26" r="4.15" fill="#d4009b"/>
<circle cx="255.92" cy="519.86" r="4.15" fill="#d4009b"/>
<circle cx="257.30" cy="549.82" r="4.15" fill="#d4009b"/>
<circle cx="258.67" cy="579.25" r="4.15" fill="#d4009b"/>
<circle cx="260.05" cy="582.52" r="4.15" fill="#d4009b"/>
<circle cx="261.43" cy="584.60" r="4.15" fill="#d4009b"/>
<circle cx="262.80" cy="557.31" r="4.15" fill="#d4009b"/>
<circle cx="264.18" cy="579.56" r="4.15" fill="#d4009b"/>
<circle cx="265.56" cy="571.50" r="4.15" fill="#d4009b"/>
<circle cx="266.94" cy="570.27" r="4.15" fill="#d4009b"/>
<circle cx="268.31" cy="590.48" r="4.15" fill="#d4009b"/>
<circle cx="269.69" cy="570.74" r="4.15" fill="#d4009b"/>
<circle cx="271.07" cy="610.27" r="4.15" fill="#d4009b"/>
<circle cx="272.44" cy="569.87" r="4.15" fill="#d4009b"/>
<circle cx="273.82" cy="554.10" r="4.15" fill="#d4009b"/>
<circle cx="275.20" cy="569.81" r="4.15" fill="#d4009b"/>
<circle cx="276.57" cy="574.24" r="4.15" fill="#d4009b"/>
<circle cx="277.95" cy="580.64" r="4.15" fill="#d4009b"/>
<circle cx="279.33" cy="579.41" r="4.15" fill="#d4009b"/>
<circle cx="280.71" cy="528.42" r="4.15" fill="#d4009b"/>
<circle cx="282.08" cy="574.06" r="4.15" fill="#d4009b"/>
<circle cx="283.46" cy="569.23" r="4.15" fill="#d4009b"/>
<circle cx="284.84" cy="561.05" r="4.15" fill="#d4009b"/>
<circle cx="286.21" cy="580.62" r="4.15" fill="#d4009b"/>
<circle cx="287.59" cy="573.92" r="4.15" fill="#d4009b"/>
<circle cx="288.97" cy="579.56" r="4.15" fill="#d4009b"/>
<circle cx="290.35" cy="572.68" r="4.15" fill="#d4009b"/>
<circle cx="291.72" cy="553.57" r="4.15" fill="#d4009b"/>
<circle cx="293.10" cy="576.89" r="4.15" fill="#d4009b"/>
<circle cx="294.48" cy="583.09" r="4.15" fill="#d4009b"/>
<circle cx="295.85" cy="573.43" r="4.15" fill="#d4009b"/>
<circle cx="297.23" cy="580.77" r="4.15" fill="#d4009b"/>
<circle cx="298.61" cy="576.92" r="4.15" fill="#d4009b"/>
<circle cx="299.98" cy="571.26" r="4.15" fill="#d4009b"/>
<circle cx="301.36" cy="582.56" r="4.15" fill="#d4009b"/>
<circle cx="302.74" cy="562.66" r="4.15" fill="#d4009b"/>
<circle cx="304.12" cy="570.76" r="4.15" fill="#d4009b"/>
<circle cx="305.49" cy="579.10" r="4.15" fill="#d4009b"/>
<circle cx="306.87" cy="581.22" r="4.15" fill="#d4009b"/>
<circle cx="308.25" cy="570.25" r="4.15" fill="#d4009b"/>
<circle cx="309.62" cy="557.31" r="4.15" fill="#d4009b"/>
<circle cx="311.00" cy="571.90" r="4.15" fill="#d4009b"/>
<line x1="36.98" y1="575.50" x2="311.00" y2="575.50" stroke="#ffff00" stroke-width="2.2"/>
<circle cx="36.98" cy="575.50" r="4.2" fill="#ffff00"/>
<circle cx="38.35" cy="575.50" r="4.2" fill="#ffff00"/>
<circle cx="39.73" cy="575.50" r="4.2" fill="#ffff00"/>
<circle cx="41.11" cy="575.50" r="4.2" fill="#ffff00"/>
<circle cx="42.48" cy="575.50" r="4.2" fill="#ffff00"/>
<circle cx="43.86" cy="575.50" r="4.2" fill="#ffff00"/>
<circle cx="45.24" cy="575.50" r="4.2" fill="#ffff00"/>
<circle cx="46.62" cy="575.50" r="4.2" fill="#ffff00"/>
<circle cx="47.99" cy="575.50" r="4.2" fill="#ffff00"/>
<circle cx="49.37" cy="575.50" r="4.2" fill="#ffff00"/>
<circle cx="50.75" cy="575.50" r="4.2" fill="#ffff00"/>
<circle cx="52.12" cy="575.50" r="4.2" fill="#ffff00"/>
<circle cx="53.50" cy="575.50" r="4.2" fill="#ffff00"/>
<circle cx="54.88" cy="575.50" r="4.2" fill="#ffff00"/>
<circle cx="56.25" cy="575.50" r="4.2" fill="#ffff00"/>
<circle cx="57.63" cy="575.50" r="4.2" fill="#ffff00"/>
<circle cx="59.01" cy="575.50" r="4.2" fill="#ffff00"/>
<circle cx="60.39" cy="575.50" r="4.2" fill="#ffff00"/>
<circle cx="61.76" cy="575.50" r="4.2" fill="#ffff00"/>
<circle cx="63.14" cy="575.50" r="4.2" fill="#ffff00"/>
<circle cx="64.52" cy="575.50" r="4.2" fill="#ffff00"/>
<circle cx="65.89" cy="575.50" r="4.2" fill="#ffff00"/>
<circle cx="67.27" cy="575.50" r="4.2" fill="#ffff00"/>
<circle cx="68.65" cy="575.50" r="4.2" fill="#ffff00"/>
<circle cx="70.03" cy="575.50" r="4.2" fill="#ffff00"/>
<circle cx="71.40" cy="575.50" r="4.2" fill="#ffff00"/>
<circle cx="72.78" cy="575.50" r="4.2" fill="#ffff00"/>
<circle cx="74.16" cy="575.50" r="4.2" fill="#ffff00"/>
<circle cx="75.53" cy="575.50" r="4.2" fill="#ffff00"/>
<circle cx="76.91" cy="575.50" r="4.2" fill="#ffff00"/>
<circle cx="78.29" cy="575.50" r="4.2" fill="#ffff00"/>
<circle cx="79.66" cy="575.50" r="4.2" fill="#ffff00"/>
<circle cx="81.04" cy="575.50" r="4.2" fill="#ffff00"/>
<circle cx="82.42" cy="575.50" r="4.2" fill="#ffff00"/>
<circle cx="83.79" cy="575.50" r="4.2" fill="#ffff00"/>
<circle cx="85.17" cy="575.50" r="4.2" fill="#ffff00"/>
<circle cx="86.55" cy="575.50" r="4.2" fill="#ffff00"/>
<circle cx="87.93" cy="575.50" r="4.2" fill="#ffff00"/>
<circle cx="89.30" cy="575.50" r="4.2" fill="#ffff00"/>
<circle cx="90.68" cy="575.50" r="4.2" fill="#ffff00"/>
<circle cx="92.06" cy="575.50" r="4.2" fill="#ffff00"/>
<circle cx="93.43" cy="575.50" r="4.2" fill="#ffff00"/>
<circle cx="94.81" cy="575.50" r="4.2" fill="#ffff00"/>
<circle cx="96.19" cy="575.50" r="4.2" fill="#ffff00"/>
<circle cx="97.56" cy="575.50" r="4.2" fill="#ffff00"/>
<circle cx="98.94" cy="575.50" r="4.2" fill="#ffff00"/>
<circle cx="100.32" cy="575.50" r="4.2" fill="#ffff00"/>
<circle cx="101.70" cy="575.50" r="4.2" fill="#ffff00"/>
<circle cx="103.07" cy="575.50" r="4.2" fill="#ffff00"/>
<circle cx="104.45" cy="575.50" r="4.2" fill="#ffff00"/>
<circle cx="105.83" cy="575.50" r="4.2" fill="#ffff00"/>
<circle cx="107.20" cy="575.50" r="4.2" fill="#ffff00"/>
<circle cx="108.58" cy="575.50" r="4.2" fill="#ffff00"/>
<circle cx="109.96" cy="575.50" r="4.2" fill="#ffff00"/>
<circle cx="111.34" cy="575.50" r="4.2" fill="#ffff00"/>
<circle cx="112.71" cy="575.50" r="4.2" fill="#ffff00"/>
<circle cx="114.09" cy="575.50" r="4.2" fill="#ffff00"/>
<circle cx="115.47" cy="575.50" r="4.2" fill="#ffff00"/>
<circle cx="116.84" cy="575.50" r="4.2" fill="#ffff00"/>
<circle cx="118.22" cy="575.50" r="4.2" fill="#ffff00"/>
<circle cx="119.60" cy="575.50" r="4.2" fill="#ffff00"/>
<circle cx="120.97" cy="575.50" r="4.2" fill="#ffff00"/>
<circle cx="122.35" cy="575.50" r="4.2" fill="#ffff00"/>
<circle cx="123.73" cy="575.50" r="4.2" fill="#ffff00"/>
<circle cx="125.10" cy="575.50" r="4.2" fill="#ffff00"/>
<circle cx="126.48" cy="575.50" r="4.2" fill="#ffff00"/>
<circle cx="127.86" cy="575.50" r="4.2" fill="#ffff00"/>
<circle cx="129.24" cy="575.50" r="4.2" fill="#ffff00"/>
<circle cx="130.61" cy="575.50" r="4.2" fill="#ffff00"/>
<circle cx="131.99" cy="575.50" r="4.2" fill="#ffff00"/>
<circle cx="133.37" cy="575.50" r="4.2" fill="#ffff00"/>
<circle cx="134.74" cy="575.50" r="4.2" fill="#ffff00"/>
<circle cx="136.12" cy="575.50" r="4.2" fill="#ffff00"/>
<circle cx="137.50" cy="575.50" r="4.2" fill="#ffff00"/>
<circle cx="138.88" cy="575.50" r="4.2" fill="#ffff00"/>
<circle cx="140.25" cy="575.50" r="4.2" fill="#ffff00"/>
<circle cx="141.63" cy="575.50" r="4.2" fill="#ffff00"/>
<circle cx="143.01" cy="575.50" r="4.2" fill="#ffff00"/>
<circle cx="144.38" cy="575.50" r="4.2" fill="#ffff00"/>
<circle cx="145.76" cy="575.50" r="4.2" fill="#ffff00"/>
<circle cx="147.14" cy="575.50" r="4.2" fill="#ffff00"/>
<circle cx="148.51" cy="575.50" r="4.2" fill="#ffff00"/>
<circle cx="149.89" cy="575.50" r="4.2" fill="#ffff00"/>
<circle cx="151.27" cy="575.50" r="4.2" fill="#ffff00"/>
<circle cx="152.64" cy="575.50" r="4.2" fill="#ffff00"/>
<circle cx="154.02" cy="575.50" r="4.2" fill="#ffff00"/>
<circle cx="155.40" cy="575.50" r="4.2" fill="#ffff00"/>
<circle cx="156.78" cy="575.50" r="4.2" fill="#ffff00"/>
<circle cx="158.15" cy="575.50" r="4.2" fill="#ffff00"/>
<circle cx="159.53" cy="575.50" r="4.2" fill="#ffff00"/>
<circle cx="160.91" cy="575.50" r="4.2" fill="#ffff00"/>
<circle cx="162.28" cy="575.50" r="4.2" fill="#ffff00"/>
<circle cx="163.66" cy="575.50" r="4.2" fill="#ffff00"/>
<circle cx="165.04" cy="575.50" r="4.2" fill="#ffff00"/>
<circle cx="166.41" cy="575.50" r="4.2" fill="#ffff00"/>
<circle cx="167.79" cy="575.50" r="4.2" fill="#ffff00"/>
<circle cx="169.17" cy="575.50" r="4.2" fill="#ffff00"/>
<circle cx="170.55" cy="575.50" r="4.2" fill="#ffff00"/>
<circle cx="171.92" cy="575.50" r="4.2" fill="#ffff00"/>
<circle cx="173.30" cy="575.50" r="4.2" fill="#ffff00"/>
<circle cx="174.68" cy="575.50" r="4.2" fill="#ffff00"/>
<circle cx="176.05" cy="575.50" r="4.2" fill="#ffff00"/>
<circle cx="177.43" cy="575.50" r="4.2" fill="#ffff00"/>
<circle cx="178.81" cy="575.50" r="4.2" fill="#ffff00"/>
<circle cx="180.19" cy="575.50" r="4.2" fill="#ffff00"/>
<circle cx="181.56" cy="575.50" r="4.2" fill="#ffff00"/>
<circle cx="182.94" cy="575.50" r="4.2" fill="#ffff00"/>
<circle cx="184.32" cy="575.50" r="4.2" fill="#ffff00"/>
<circle cx="185.69" cy="575.50" r="4.2" fill="#ffff00"/>
<circle cx="187.07" cy="575.50" r="4.2" fill="#ffff00"/>
<circle cx="188.45" cy="575.50" r="4.2" fill="#ffff00"/>
<circle cx="189.82" cy="575.50" r="4.2" fill="#ffff00"/>
<circle cx="191.20" cy="575.50" r="4.2" fill="#ffff00"/>
<circle cx="192.58" cy="575.50" r="4.2" fill="#ffff00"/>
<circle cx="193.95" cy="575.50" r="4.2" fill="#ffff00"/>
<circle cx="195.33" cy="575.50" r="4.2" fill="#ffff00"/>
<circle cx="196.71" cy="575.50" r="4.2" fill="#ffff00"/>
<circle cx="198.09" cy="575.50" r="4.2" fill="#ffff00"/>
<circle cx="199.46" cy="575.50" r="4.2" fill="#ffff00"/>
<circle cx="200.84" cy="575.50" r="4.2" fill="#ffff00"/>
<circle cx="202.22" cy="575.50" r="4.2" fill="#ffff00"/>
<circle cx="203.59" cy="575.50" r="4.2" fill="#ffff00"/>
<circle cx="204.97" cy="575.50" r="4.2" fill="#ffff00"/>
<circle cx="206.35" cy="575.50" r="4.2" fill="#ffff00"/>
<circle cx="207.72" cy="575.50" r="4.2" fill="#ffff00"/>
<circle cx="209.10" cy="575.50" r="4.2" fill="#ffff00"/>
<circle cx="210.48" cy="575.50" r="4.2" fill="#ffff00"/>
<circle cx="211.86" cy="575.50" r="4.2" fill="#ffff00"/>
<circle cx="213.23" cy="575.50" r="4.2" fill="#ffff00"/>
<circle cx="214.61" cy="575.50" r="4.2" fill="#ffff00"/>
<circle cx="215.99" cy="575.50" r="4.2" fill="#ffff00"/>
<circle cx="217.36" cy="575.50" r="4.2" fill="#ffff00"/>
<circle cx="218.74" cy="575.50" r="4.2" fill="#ffff00"/>
<circle cx="220.12" cy="575.50" r="4.2" fill="#ffff00"/>
<circle cx="221.50" cy="575.50" r="4.2" fill="#ffff00"/>
<circle cx="222.87" cy="575.50" r="4.2" fill="#ffff00"/>
<circle cx="224.25" cy="575.50" r="4.2" fill="#ffff00"/>
<circle cx="225.63" cy="575.50" r="4.2" fill="#ffff00"/>
<circle cx="227.00" cy="575.50" r="4.2" fill="#ffff00"/>
<circle cx="228.38" cy="575.50" r="4.2" fill="#ffff00"/>
<circle cx="229.76" cy="575.50" r="4.2" fill="#ffff00"/>
<circle cx="231.13" cy="575.50" r="4.2" fill="#ffff00"/>
<circle cx="232.51" cy="575.50" r="4.2" fill="#ffff00"/>
<circle cx="233.89" cy="575.50" r="4.2" fill="#ffff00"/>
<circle cx="235.26" cy="575.50" r="4.2" fill="#ffff00"/>
<circle cx="236.64" cy="575.50" r="4.2" fill="#ffff00"/>
<circle cx="238.02" cy="575.50" r="4.2" fill="#ffff00"/>
<circle cx="239.40" cy="575.50" r="4.2" fill="#ffff00"/>
<circle cx="240.77" cy="575.50" r="4.2" fill="#ffff00"/>
<circle cx="242.15" cy="575.50" r="4.2" fill="#ffff00"/>
<circle cx="243.53" cy="575.50" r="4.2" fill="#ffff00"/>
<circle cx="244.90" cy="575.50" r="4.2" fill="#ffff00"/>
<circle cx="246.28" cy="575.50" r="4.2" fill="#ffff00"/>
<circle cx="247.66" cy="575.50" r="4.2" fill="#ffff00"/>
<circle cx="249.03" cy="575.50" r="4.2" fill="#ffff00"/>
<circle cx="250.41" cy="575.50" r="4.2" fill="#ffff00"/>
<circle cx="251.79" cy="575.50" r="4.2" fill="#ffff00"/>
<circle cx="253.17" cy="575.50" r="4.2" fill="#ffff00"/>
<circle cx="254.54" cy="575.50" r="4.2" fill="#ffff00"/>
<circle cx="255.92" cy="575.50" r="4.2" fill="#ffff00"/>
<circle cx="257.30" cy="575.50" r="4.2" fill="#ffff00"/>
<circle cx="258.67" cy="575.50" r="4.2" fill="#ffff00"/>
<circle cx="260.05" cy="575.50" r="4.2" fill="#ffff00"/>
<circle cx="261.43" cy="575.50" r="4.2" fill="#ffff00"/>
<circle cx="262.80" cy="575.50" r="4.2" fill="#ffff00"/>
<circle cx="264.18" cy="575.50" r="4.2" fill="#ffff00"/>
<circle cx="265.56" cy="575.50" r="4.2" fill="#ffff00"/>
<circle cx="266.94" cy="575.50" r="4.2" fill="#ffff00"/>
<circle cx="268.31" cy="575.50" r="4.2" fill="#ffff00"/>
<circle cx="269.69" cy="575.50" r="4.2" fill="#ffff00"/>
<circle cx="271.07" cy="575.50" r="4.2" fill="#ffff00"/>
<circle cx="272.44" cy="575.50" r="4.2" fill="#ffff00"/>
<circle cx="273.82" cy="575.50" r="4.2" fill="#ffff00"/>
<circle cx="275.20" cy="575.50" r="4.2" fill="#ffff00"/>
<circle cx="276.57" cy="575.50" r="4.2" fill="#ffff00"/>
<circle cx="277.95" cy="575.50" r="4.2" fill="#ffff00"/>
<circle cx="279.33" cy="575.50" r="4.2" fill="#ffff00"/>
<circle cx="280.71" cy="575.50" r="4.2" fill="#ffff00"/>
<circle cx="282.08" cy="575.50" r="4.2" fill="#ffff00"/>
<circle cx="283.46" cy="575.50" r="4.2" fill="#ffff00"/>
<circle cx="284.84" cy="575.50" r="4.2" fill="#ffff00"/>
<circle cx="286.21" cy="575.50" r="4.2" fill="#ffff00"/>
<circle cx="287.59" cy="575.50" r="4.2" fill="#ffff00"/>
<circle cx="288.97" cy="575.50" r="4.2" fill="#ffff00"/>
<circle cx="290.35" cy="575.50" r="4.2" fill="#ffff00"/>
<circle cx="291.72" cy="575.50" r="4.2" fill="#ffff00"/>
<circle cx="293.10" cy="575.50" r="4.2" fill="#ffff00"/>
<circle cx="294.48" cy="575.50" r="4.2" fill="#ffff00"/>
<circle cx="295.85" cy="575.50" r="4.2" fill="#ffff00"/>
<circle cx="297.23" cy="575.50" r="4.2" fill="#ffff00"/>
<circle cx="298.61" cy="575.50" r="4.2" fill="#ffff00"/>
<circle cx="299.98" cy="575.50" r="4.2" fill="#ffff00"/>
<circle cx="301.36" cy="575.50" r="4.2" fill="#ffff00"/>
<circle cx="302.74" cy="575.50" r="4.2" fill="#ffff00"/>
<circle cx="304.12" cy="575.50" r="4.2" fill="#ffff00"/>
<circle cx="305.49" cy="575.50" r="4.2" fill="#ffff00"/>
<circle cx="306.87" cy="575.50" r="4.2" fill="#ffff00"/>
<circle cx="308.25" cy="575.50" r="4.2" fill="#ffff00"/>
<circle cx="309.62" cy="575.50" r="4.2" fill="#ffff00"/>
<circle cx="311.00" cy="575.50" r="4.2" fill="#ffff00"/>
<rect x="398.00" y="468.20" width="278.00" height="160.50" fill="none" stroke="#000" stroke-width="2"/>
<polyline points="403.56,582.69 409.12,566.64 414.68,575.20 420.24,567.71 425.80,524.38 431.36,575.20 436.92,578.95 442.48,575.20 448.04,580.55 453.60,547.91 459.16,581.62 464.72,589.64 470.28,575.20 475.84,564.50 481.40,582.69 486.96,586.44 492.52,581.62 498.08,580.55 503.64,580.55 509.20,580.55 514.76,580.55 520.32,590.72 525.88,577.88 531.44,567.71 537.00,561.83 542.56,583.23 548.12,580.55 553.68,571.46 559.24,557.55 564.80,577.34 570.36,575.20 575.92,580.55 581.48,538.28 587.04,575.20 592.60,568.25 598.16,598.74 603.72,557.01 609.28,579.48 614.84,571.46 620.40,571.46 625.96,577.34 631.52,575.20 637.08,581.62 642.64,580.55 648.20,596.07 653.76,580.01 659.32,580.01 664.88,579.48 670.44,575.20 676.00,584.30" fill="none" stroke="#d4009b" stroke-width="2.2" stroke-linejoin="round"/>
<circle cx="403.56" cy="582.69" r="4.15" fill="#d4009b"/>
<circle cx="409.12" cy="566.64" r="4.15" fill="#d4009b"/>
<circle cx="414.68" cy="575.20" r="4.15" fill="#d4009b"/>
<circle cx="420.24" cy="567.71" r="4.15" fill="#d4009b"/>
<circle cx="425.80" cy="524.38" r="4.15" fill="#d4009b"/>
<circle cx="431.36" cy="575.20" r="4.15" fill="#d4009b"/>
<circle cx="436.92" cy="578.95" r="4.15" fill="#d4009b"/>
<circle cx="442.48" cy="575.20" r="4.15" fill="#d4009b"/>
<circle cx="448.04" cy="580.55" r="4.15" fill="#d4009b"/>
<circle cx="453.60" cy="547.91" r="4.15" fill="#d4009b"/>
<circle cx="459.16" cy="581.62" r="4.15" fill="#d4009b"/>
<circle cx="464.72" cy="589.64" r="4.15" fill="#d4009b"/>
<circle cx="470.28" cy="575.20" r="4.15" fill="#d4009b"/>
<circle cx="475.84" cy="564.50" r="4.15" fill="#d4009b"/>
<circle cx="481.40" cy="582.69" r="4.15" fill="#d4009b"/>
<circle cx="486.96" cy="586.44" r="4.15" fill="#d4009b"/>
<circle cx="492.52" cy="581.62" r="4.15" fill="#d4009b"/>
<circle cx="498.08" cy="580.55" r="4.15" fill="#d4009b"/>
<circle cx="503.64" cy="580.55" r="4.15" fill="#d4009b"/>
<circle cx="509.20" cy="580.55" r="4.15" fill="#d4009b"/>
<circle cx="514.76" cy="580.55" r="4.15" fill="#d4009b"/>
<circle cx="520.32" cy="590.72" r="4.15" fill="#d4009b"/>
<circle cx="525.88" cy="577.88" r="4.15" fill="#d4009b"/>
<circle cx="531.44" cy="567.71" r="4.15" fill="#d4009b"/>
<circle cx="537.00" cy="561.83" r="4.15" fill="#d4009b"/>
<circle cx="542.56" cy="583.23" r="4.15" fill="#d4009b"/>
<circle cx="548.12" cy="580.55" r="4.15" fill="#d4009b"/>
<circle cx="553.68" cy="571.46" r="4.15" fill="#d4009b"/>
<circle cx="559.24" cy="557.55" r="4.15" fill="#d4009b"/>
<circle cx="564.80" cy="577.34" r="4.15" fill="#d4009b"/>
<circle cx="570.36" cy="575.20" r="4.15" fill="#d4009b"/>
<circle cx="575.92" cy="580.55" r="4.15" fill="#d4009b"/>
<circle cx="581.48" cy="538.28" r="4.15" fill="#d4009b"/>
<circle cx="587.04" cy="575.20" r="4.15" fill="#d4009b"/>
<circle cx="592.60" cy="568.25" r="4.15" fill="#d4009b"/>
<circle cx="598.16" cy="598.74" r="4.15" fill="#d4009b"/>
<circle cx="603.72" cy="557.01" r="4.15" fill="#d4009b"/>
<circle cx="609.28" cy="579.48" r="4.15" fill="#d4009b"/>
<circle cx="614.84" cy="571.46" r="4.15" fill="#d4009b"/>
<circle cx="620.40" cy="571.46" r="4.15" fill="#d4009b"/>
<circle cx="625.96" cy="577.34" r="4.15" fill="#d4009b"/>
<circle cx="631.52" cy="575.20" r="4.15" fill="#d4009b"/>
<circle cx="637.08" cy="581.62" r="4.15" fill="#d4009b"/>
<circle cx="642.64" cy="580.55" r="4.15" fill="#d4009b"/>
<circle cx="648.20" cy="596.07" r="4.15" fill="#d4009b"/>
<circle cx="653.76" cy="580.01" r="4.15" fill="#d4009b"/>
<circle cx="659.32" cy="580.01" r="4.15" fill="#d4009b"/>
<circle cx="664.88" cy="579.48" r="4.15" fill="#d4009b"/>
<circle cx="670.44" cy="575.20" r="4.15" fill="#d4009b"/>
<circle cx="676.00" cy="584.30" r="4.15" fill="#d4009b"/>
<line x1="403.56" y1="575.20" x2="676.00" y2="575.20" stroke="#ffff00" stroke-width="2.2"/>
<circle cx="403.56" cy="575.20" r="4.2" fill="#ffff00"/>
<circle cx="409.12" cy="575.20" r="4.2" fill="#ffff00"/>
<circle cx="414.68" cy="575.20" r="4.2" fill="#ffff00"/>
<circle cx="420.24" cy="575.20" r="4.2" fill="#ffff00"/>
<circle cx="425.80" cy="575.20" r="4.2" fill="#ffff00"/>
<circle cx="431.36" cy="575.20" r="4.2" fill="#ffff00"/>
<circle cx="436.92" cy="575.20" r="4.2" fill="#ffff00"/>
<circle cx="442.48" cy="575.20" r="4.2" fill="#ffff00"/>
<circle cx="448.04" cy="575.20" r="4.2" fill="#ffff00"/>
<circle cx="453.60" cy="575.20" r="4.2" fill="#ffff00"/>
<circle cx="459.16" cy="575.20" r="4.2" fill="#ffff00"/>
<circle cx="464.72" cy="575.20" r="4.2" fill="#ffff00"/>
<circle cx="470.28" cy="575.20" r="4.2" fill="#ffff00"/>
<circle cx="475.84" cy="575.20" r="4.2" fill="#ffff00"/>
<circle cx="481.40" cy="575.20" r="4.2" fill="#ffff00"/>
<circle cx="486.96" cy="575.20" r="4.2" fill="#ffff00"/>
<circle cx="492.52" cy="575.20" r="4.2" fill="#ffff00"/>
<circle cx="498.08" cy="575.20" r="4.2" fill="#ffff00"/>
<circle cx="503.64" cy="575.20" r="4.2" fill="#ffff00"/>
<circle cx="509.20" cy="575.20" r="4.2" fill="#ffff00"/>
<circle cx="514.76" cy="575.20" r="4.2" fill="#ffff00"/>
<circle cx="520.32" cy="575.20" r="4.2" fill="#ffff00"/>
<circle cx="525.88" cy="575.20" r="4.2" fill="#ffff00"/>
<circle cx="531.44" cy="575.20" r="4.2" fill="#ffff00"/>
<circle cx="537.00" cy="575.20" r="4.2" fill="#ffff00"/>
<circle cx="542.56" cy="575.20" r="4.2" fill="#ffff00"/>
<circle cx="548.12" cy="575.20" r="4.2" fill="#ffff00"/>
<circle cx="553.68" cy="575.20" r="4.2" fill="#ffff00"/>
<circle cx="559.24" cy="575.20" r="4.2" fill="#ffff00"/>
<circle cx="564.80" cy="575.20" r="4.2" fill="#ffff00"/>
<circle cx="570.36" cy="575.20" r="4.2" fill="#ffff00"/>
<circle cx="575.92" cy="575.20" r="4.2" fill="#ffff00"/>
<circle cx="581.48" cy="575.20" r="4.2" fill="#ffff00"/>
<circle cx="587.04" cy="575.20" r="4.2" fill="#ffff00"/>
<circle cx="592.60" cy="575.20" r="4.2" fill="#ffff00"/>
<circle cx="598.16" cy="575.20" r="4.2" fill="#ffff00"/>
<circle cx="603.72" cy="575.20" r="4.2" fill="#ffff00"/>
<circle cx="609.28" cy="575.20" r="4.2" fill="#ffff00"/>
<circle cx="614.84" cy="575.20" r="4.2" fill="#ffff00"/>
<circle cx="620.40" cy="575.20" r="4.2" fill="#ffff00"/>
<circle cx="625.96" cy="575.20" r="4.2" fill="#ffff00"/>
<circle cx="631.52" cy="575.20" r="4.2" fill="#ffff00"/>
<circle cx="637.08" cy="575.20" r="4.2" fill="#ffff00"/>
<circle cx="642.64" cy="575.20" r="4.2" fill="#ffff00"/>
<circle cx="648.20" cy="575.20" r="4.2" fill="#ffff00"/>
<circle cx="653.76" cy="575.20" r="4.2" fill="#ffff00"/>
<circle cx="659.32" cy="575.20" r="4.2" fill="#ffff00"/>
<circle cx="664.88" cy="575.20" r="4.2" fill="#ffff00"/>
<circle cx="670.44" cy="575.20" r="4.2" fill="#ffff00"/>
<circle cx="676.00" cy="575.20" r="4.2" fill="#ffff00"/>
<rect x="99.00" y="477.70" width="30.00" height="9" fill="#fff"/>
<rect x="174.00" y="477.70" width="30.00" height="9" fill="#fff"/>
<line x1="100.00" y1="482.20" x2="128.00" y2="482.20" stroke="#d4009b" stroke-width="2.2"/>
<circle cx="114.00" cy="482.20" r="3.9" fill="#d4009b"/>
<text x="131.00" y="486.00" font-size="12" font-weight="bold" text-anchor="start" fill="#000">Ratio</text>
<line x1="175.00" y1="482.20" x2="203.00" y2="482.20" stroke="#ffff00" stroke-width="2.2"/>
<circle cx="189.00" cy="482.20" r="3.9" fill="#ffff00"/>
<text x="206.00" y="486.00" font-size="12" font-weight="bold" text-anchor="start" fill="#000">Normal</text>
<rect x="470.00" y="477.70" width="30.00" height="9" fill="#fff"/>
<rect x="539.60" y="477.70" width="29.70" height="9" fill="#fff"/>
<line x1="471.00" y1="482.20" x2="499.00" y2="482.20" stroke="#d4009b" stroke-width="2.2"/>
<circle cx="485.00" cy="482.20" r="3.9" fill="#d4009b"/>
<text x="502.00" y="486.00" font-size="12" font-weight="bold" text-anchor="start" fill="#000">Ratio</text>
<line x1="540.60" y1="482.20" x2="568.30" y2="482.20" stroke="#ffff00" stroke-width="2.2"/>
<circle cx="554.45" cy="482.20" r="3.9" fill="#ffff00"/>
<text x="571.00" y="486.00" font-size="12" font-weight="bold" text-anchor="start" fill="#000">Normal</text>
<text transform="translate(24.60 634.70) scale(1 1.03)" font-size="12.7" text-anchor="end" fill="#000">0</text>
<text transform="translate(24.60 581.20) scale(1 1.03)" font-size="12.7" text-anchor="end" fill="#000">1</text>
<text transform="translate(24.60 527.70) scale(1 1.03)" font-size="12.7" text-anchor="end" fill="#000">2</text>
<text transform="translate(24.60 474.20) scale(1 1.03)" font-size="12.7" text-anchor="end" fill="#000">3</text>
<text transform="translate(35.60 648.40) scale(1 1.03)" font-size="12.7" text-anchor="middle" fill="#000">0</text>
<text transform="translate(104.45 648.40) scale(1 1.03)" font-size="12.7" text-anchor="middle" fill="#000">50</text>
<text transform="translate(173.30 648.40) scale(1 1.03)" font-size="12.7" text-anchor="middle" fill="#000">100</text>
<text transform="translate(242.15 648.40) scale(1 1.03)" font-size="12.7" text-anchor="middle" fill="#000">150</text>
<text transform="translate(311.00 648.40) scale(1 1.03)" font-size="12.7" text-anchor="middle" fill="#000">200</text>
<text transform="translate(386.70 634.40) scale(1 1.03)" font-size="12.7" text-anchor="end" fill="#000">0</text>
<text transform="translate(386.70 580.90) scale(1 1.03)" font-size="12.7" text-anchor="end" fill="#000">1</text>
<text transform="translate(386.70 527.40) scale(1 1.03)" font-size="12.7" text-anchor="end" fill="#000">2</text>
<text transform="translate(386.70 473.90) scale(1 1.03)" font-size="12.7" text-anchor="end" fill="#000">3</text>
<text transform="translate(398.00 648.40) scale(1 1.03)" font-size="12.7" text-anchor="middle" fill="#000">200</text>
<text transform="translate(453.60 648.40) scale(1 1.03)" font-size="12.7" text-anchor="middle" fill="#000">210</text>
<text transform="translate(509.20 648.40) scale(1 1.03)" font-size="12.7" text-anchor="middle" fill="#000">220</text>
<text transform="translate(564.80 648.40) scale(1 1.03)" font-size="12.7" text-anchor="middle" fill="#000">230</text>
<text transform="translate(620.40 648.40) scale(1 1.03)" font-size="12.7" text-anchor="middle" fill="#000">240</text>
<text transform="translate(676.00 648.40) scale(1 1.03)" font-size="12.7" text-anchor="middle" fill="#000">250</text>
<text x="173.90" y="663.60" font-size="13.5" font-weight="bold" text-anchor="middle" fill="#000">Row number</text>
<text x="537.10" y="663.40" font-size="13.5" font-weight="bold" text-anchor="middle" fill="#000">Row number</text>
<text x="161.30" y="687.70" font-size="14" text-anchor="middle" fill="#000">(e)</text>
<text x="521.20" y="687.70" font-size="14" text-anchor="middle" fill="#000">(f)</text>
<text x="10.80" y="548.50" font-size="13.5" font-weight="bold" text-anchor="middle" fill="#000" transform="rotate(-90 10.80 548.50)">Fc (MPa)</text>
<text x="373.00" y="548.30" font-size="13.5" font-weight="bold" text-anchor="middle" fill="#000" transform="rotate(-90 373.00 548.30)">Fc (MPa)</text>
<rect x="58.20" y="703.90" width="245.70" height="158.40" fill="none" stroke="#000" stroke-width="2"/>
<rect x="418.10" y="704.30" width="248.90" height="158.00" fill="none" stroke="#000" stroke-width="2"/>
<text transform="translate(58.20 801.70) scale(1 1.03)" font-size="12.7" text-anchor="middle" fill="#000">0</text>
<text transform="translate(119.62 801.70) scale(1 1.03)" font-size="12.7" text-anchor="middle" fill="#000">50</text>
<text transform="translate(181.05 801.70) scale(1 1.03)" font-size="12.7" text-anchor="middle" fill="#000">100</text>
<text transform="translate(242.47 801.70) scale(1 1.03)" font-size="12.7" text-anchor="middle" fill="#000">150</text>
<text transform="translate(303.90 801.70) scale(1 1.03)" font-size="12.7" text-anchor="middle" fill="#000">200</text>
<text transform="translate(418.10 801.70) scale(1 1.03)" font-size="12.7" text-anchor="middle" fill="#000">0</text>
<text transform="translate(467.88 801.70) scale(1 1.03)" font-size="12.7" text-anchor="middle" fill="#000">10</text>
<text transform="translate(517.66 801.70) scale(1 1.03)" font-size="12.7" text-anchor="middle" fill="#000">20</text>
<text transform="translate(567.44 801.70) scale(1 1.03)" font-size="12.7" text-anchor="middle" fill="#000">30</text>
<text transform="translate(617.22 801.70) scale(1 1.03)" font-size="12.7" text-anchor="middle" fill="#000">40</text>
<text transform="translate(667.00 801.70) scale(1 1.03)" font-size="12.7" text-anchor="middle" fill="#000">50</text>
<circle cx="62.9" cy="745.9" r="4.1" fill="#cc0066"/>
<circle cx="67.9" cy="752.4" r="4.1" fill="#cc0066"/>
<circle cx="87.6" cy="739.8" r="4.1" fill="#cc0066"/>
<circle cx="79.2" cy="746.4" r="4.1" fill="#cc0066"/>
<circle cx="83.8" cy="746.7" r="4.1" fill="#cc0066"/>
<circle cx="80.0" cy="754.5" r="4.1" fill="#cc0066"/>
<circle cx="97.4" cy="745.9" r="4.1" fill="#cc0066"/>
<circle cx="99.7" cy="749.4" r="4.1" fill="#cc0066"/>
<circle cx="103.8" cy="748.9" r="4.1" fill="#cc0066"/>
<circle cx="119.4" cy="749.4" r="4.1" fill="#cc0066"/>
<circle cx="64.1" cy="763.6" r="4.1" fill="#cc0066"/>
<circle cx="61.4" cy="770.2" r="4.1" fill="#cc0066"/>
<circle cx="77.7" cy="767.1" r="4.1" fill="#cc0066"/>
<circle cx="85.3" cy="770.9" r="4.1" fill="#cc0066"/>
<circle cx="86.1" cy="766.4" r="4.1" fill="#cc0066"/>
<circle cx="89.5" cy="765.6" r="4.1" fill="#cc0066"/>
<circle cx="94.4" cy="758.0" r="4.1" fill="#cc0066"/>
<circle cx="96.2" cy="761.1" r="4.1" fill="#cc0066"/>
<circle cx="112.6" cy="761.1" r="4.1" fill="#cc0066"/>
<circle cx="116.4" cy="762.6" r="4.1" fill="#cc0066"/>
<circle cx="120.9" cy="760.3" r="4.1" fill="#cc0066"/>
<circle cx="108.0" cy="774.7" r="4.1" fill="#cc0066"/>
<circle cx="110.3" cy="776.2" r="4.1" fill="#cc0066"/>
<circle cx="103.5" cy="778.5" r="4.1" fill="#cc0066"/>
<circle cx="81.5" cy="779.2" r="4.1" fill="#cc0066"/>
<circle cx="93.6" cy="780.0" r="4.1" fill="#cc0066"/>
<circle cx="74.7" cy="780.8" r="4.1" fill="#cc0066"/>
<circle cx="70.9" cy="780.8" r="4.1" fill="#cc0066"/>
<circle cx="57.3" cy="783.0" r="4.1" fill="#cc0066"/>
<circle cx="82.3" cy="786.1" r="4.1" fill="#cc0066"/>
<circle cx="89.8" cy="791.4" r="4.1" fill="#cc0066"/>
<circle cx="98.9" cy="790.6" r="4.1" fill="#cc0066"/>
<circle cx="111.1" cy="791.8" r="4.1" fill="#cc0066"/>
<circle cx="91.4" cy="798.9" r="4.1" fill="#cc0066"/>
<circle cx="102.3" cy="801.2" r="4.1" fill="#cc0066"/>
<circle cx="112.6" cy="803.5" r="4.1" fill="#cc0066"/>
<circle cx="117.1" cy="785.3" r="4.1" fill="#cc0066"/>
<circle cx="67.1" cy="798.9" r="4.1" fill="#cc0066"/>
<circle cx="60.3" cy="802.0" r="4.1" fill="#cc0066"/>
<circle cx="75.5" cy="807.6" r="4.1" fill="#cc0066"/>
<circle cx="73.9" cy="813.3" r="4.1" fill="#cc0066"/>
<circle cx="68.6" cy="819.4" r="4.1" fill="#cc0066"/>
<circle cx="72.9" cy="819.7" r="4.1" fill="#cc0066"/>
<circle cx="118.3" cy="823.2" r="4.1" fill="#cc0066"/>
<circle cx="107.3" cy="840.2" r="4.1" fill="#cc0066"/>
<circle cx="123.2" cy="834.2" r="4.1" fill="#cc0066"/>
<circle cx="65.3" cy="851.2" r="4.1" fill="#cc0066"/>
<circle cx="70.2" cy="858.8" r="4.1" fill="#cc0066"/>
<circle cx="122.4" cy="852.4" r="4.1" fill="#cc0066"/>
<circle cx="146.8" cy="741.7" r="4.1" fill="#cc0066"/>
<circle cx="152.5" cy="752.2" r="4.1" fill="#cc0066"/>
<circle cx="160.1" cy="750.9" r="4.1" fill="#cc0066"/>
<circle cx="168.6" cy="745.5" r="4.1" fill="#cc0066"/>
<circle cx="171.4" cy="741.7" r="4.1" fill="#cc0066"/>
<circle cx="173.7" cy="755.0" r="4.1" fill="#cc0066"/>
<circle cx="130.6" cy="766.0" r="4.1" fill="#cc0066"/>
<circle cx="141.7" cy="763.0" r="4.1" fill="#cc0066"/>
<circle cx="151.5" cy="761.1" r="4.1" fill="#cc0066"/>
<circle cx="154.4" cy="762.6" r="4.1" fill="#cc0066"/>
<circle cx="149.1" cy="770.6" r="4.1" fill="#cc0066"/>
<circle cx="155.9" cy="769.3" r="4.1" fill="#cc0066"/>
<circle cx="156.6" cy="773.1" r="4.1" fill="#cc0066"/>
<circle cx="172.4" cy="761.7" r="4.1" fill="#cc0066"/>
<circle cx="177.1" cy="765.5" r="4.1" fill="#cc0066"/>
<circle cx="126.9" cy="772.5" r="4.1" fill="#cc0066"/>
<circle cx="133.5" cy="775.0" r="4.1" fill="#cc0066"/>
<circle cx="139.2" cy="775.0" r="4.1" fill="#cc0066"/>
<circle cx="145.8" cy="776.9" r="4.1" fill="#cc0066"/>
<circle cx="166.1" cy="777.4" r="4.1" fill="#cc0066"/>
<circle cx="127.8" cy="789.2" r="4.1" fill="#cc0066"/>
<circle cx="134.4" cy="787.7" r="4.1" fill="#cc0066"/>
<circle cx="158.2" cy="793.9" r="4.1" fill="#cc0066"/>
<circle cx="167.6" cy="793.0" r="4.1" fill="#cc0066"/>
<circle cx="170.5" cy="791.1" r="4.1" fill="#cc0066"/>
<circle cx="163.9" cy="800.2" r="4.1" fill="#cc0066"/>
<circle cx="158.5" cy="804.0" r="4.1" fill="#cc0066"/>
<circle cx="162.9" cy="809.7" r="4.1" fill="#cc0066"/>
<circle cx="164.2" cy="806.6" r="4.1" fill="#cc0066"/>
<circle cx="175.2" cy="801.5" r="4.1" fill="#cc0066"/>
<circle cx="177.5" cy="804.0" r="4.1" fill="#cc0066"/>
<circle cx="135.4" cy="801.5" r="4.1" fill="#cc0066"/>
<circle cx="129.3" cy="815.4" r="4.1" fill="#cc0066"/>
<circle cx="140.7" cy="820.5" r="4.1" fill="#cc0066"/>
<circle cx="147.7" cy="822.4" r="4.1" fill="#cc0066"/>
<circle cx="150.6" cy="829.4" r="4.1" fill="#cc0066"/>
<circle cx="143.0" cy="830.0" r="4.1" fill="#cc0066"/>
<circle cx="161.4" cy="833.8" r="4.1" fill="#cc0066"/>
<circle cx="179.0" cy="824.9" r="4.1" fill="#cc0066"/>
<circle cx="143.9" cy="847.1" r="4.1" fill="#cc0066"/>
<circle cx="184.8" cy="751.6" r="4.1" fill="#cc0066"/>
<circle cx="187.3" cy="760.7" r="4.1" fill="#cc0066"/>
<circle cx="179.9" cy="768.6" r="4.1" fill="#cc0066"/>
<circle cx="195.6" cy="764.1" r="4.1" fill="#cc0066"/>
<circle cx="198.6" cy="760.1" r="4.1" fill="#cc0066"/>
<circle cx="202.5" cy="757.2" r="4.1" fill="#cc0066"/>
<circle cx="204.5" cy="756.2" r="4.1" fill="#cc0066"/>
<circle cx="208.4" cy="763.1" r="4.1" fill="#cc0066"/>
<circle cx="211.4" cy="762.1" r="4.1" fill="#cc0066"/>
<circle cx="207.4" cy="768.0" r="4.1" fill="#cc0066"/>
<circle cx="209.4" cy="770.9" r="4.1" fill="#cc0066"/>
<circle cx="214.3" cy="771.9" r="4.1" fill="#cc0066"/>
<circle cx="221.2" cy="728.6" r="4.1" fill="#cc0066"/>
<circle cx="217.9" cy="739.0" r="4.1" fill="#cc0066"/>
<circle cx="215.3" cy="748.3" r="4.1" fill="#cc0066"/>
<circle cx="219.3" cy="747.3" r="4.1" fill="#cc0066"/>
<circle cx="225.2" cy="774.9" r="4.1" fill="#cc0066"/>
<circle cx="229.1" cy="757.2" r="4.1" fill="#cc0066"/>
<circle cx="233.1" cy="756.2" r="4.1" fill="#cc0066"/>
<circle cx="238.0" cy="757.2" r="4.1" fill="#cc0066"/>
<circle cx="226.2" cy="765.0" r="4.1" fill="#cc0066"/>
<circle cx="231.1" cy="767.0" r="4.1" fill="#cc0066"/>
<circle cx="235.0" cy="763.1" r="4.1" fill="#cc0066"/>
<circle cx="240.0" cy="762.7" r="4.1" fill="#cc0066"/>
<circle cx="243.9" cy="769.0" r="4.1" fill="#cc0066"/>
<circle cx="246.9" cy="770.9" r="4.1" fill="#cc0066"/>
<circle cx="248.8" cy="740.4" r="4.1" fill="#cc0066"/>
<circle cx="250.8" cy="747.3" r="4.1" fill="#cc0066"/>
<circle cx="248.8" cy="744.3" r="4.1" fill="#cc0066"/>
<circle cx="260.7" cy="755.2" r="4.1" fill="#cc0066"/>
<circle cx="266.6" cy="744.3" r="4.1" fill="#cc0066"/>
<circle cx="273.5" cy="748.3" r="4.1" fill="#cc0066"/>
<circle cx="269.5" cy="756.2" r="4.1" fill="#cc0066"/>
<circle cx="283.9" cy="753.6" r="4.1" fill="#cc0066"/>
<circle cx="276.4" cy="764.1" r="4.1" fill="#cc0066"/>
<circle cx="281.4" cy="767.0" r="4.1" fill="#cc0066"/>
<circle cx="287.3" cy="763.5" r="4.1" fill="#cc0066"/>
<circle cx="300.1" cy="762.1" r="4.1" fill="#cc0066"/>
<circle cx="295.1" cy="769.0" r="4.1" fill="#cc0066"/>
<circle cx="292.2" cy="773.9" r="4.1" fill="#cc0066"/>
<circle cx="290.2" cy="775.9" r="4.1" fill="#cc0066"/>
<circle cx="258.7" cy="775.9" r="4.1" fill="#cc0066"/>
<circle cx="264.6" cy="778.8" r="4.1" fill="#cc0066"/>
<circle cx="279.4" cy="780.8" r="4.1" fill="#cc0066"/>
<circle cx="183.8" cy="775.9" r="4.1" fill="#cc0066"/>
<circle cx="188.7" cy="772.9" r="4.1" fill="#cc0066"/>
<circle cx="186.8" cy="775.9" r="4.1" fill="#cc0066"/>
<circle cx="191.7" cy="787.7" r="4.1" fill="#cc0066"/>
<circle cx="194.6" cy="790.7" r="4.1" fill="#cc0066"/>
<circle cx="199.6" cy="787.7" r="4.1" fill="#cc0066"/>
<circle cx="220.3" cy="785.7" r="4.1" fill="#cc0066"/>
<circle cx="228.1" cy="788.7" r="4.1" fill="#cc0066"/>
<circle cx="236.0" cy="789.7" r="4.1" fill="#cc0066"/>
<circle cx="250.8" cy="788.7" r="4.1" fill="#cc0066"/>
<circle cx="262.6" cy="787.7" r="4.1" fill="#cc0066"/>
<circle cx="280.4" cy="788.7" r="4.1" fill="#cc0066"/>
<circle cx="293.2" cy="791.1" r="4.1" fill="#cc0066"/>
<circle cx="298.1" cy="788.7" r="4.1" fill="#cc0066"/>
<circle cx="182.8" cy="806.4" r="4.1" fill="#cc0066"/>
<circle cx="189.7" cy="803.5" r="4.1" fill="#cc0066"/>
<circle cx="191.7" cy="799.5" r="4.1" fill="#cc0066"/>
<circle cx="216.9" cy="800.5" r="4.1" fill="#cc0066"/>
<circle cx="213.0" cy="808.0" r="4.1" fill="#cc0066"/>
<circle cx="244.9" cy="806.0" r="4.1" fill="#cc0066"/>
<circle cx="254.7" cy="807.4" r="4.1" fill="#cc0066"/>
<circle cx="266.6" cy="794.6" r="4.1" fill="#cc0066"/>
<circle cx="268.5" cy="802.5" r="4.1" fill="#cc0066"/>
<circle cx="272.5" cy="798.5" r="4.1" fill="#cc0066"/>
<circle cx="276.4" cy="800.9" r="4.1" fill="#cc0066"/>
<circle cx="289.2" cy="799.5" r="4.1" fill="#cc0066"/>
<circle cx="288.2" cy="808.4" r="4.1" fill="#cc0066"/>
<circle cx="283.3" cy="812.3" r="4.1" fill="#cc0066"/>
<circle cx="286.3" cy="815.3" r="4.1" fill="#cc0066"/>
<circle cx="271.5" cy="811.4" r="4.1" fill="#cc0066"/>
<circle cx="274.5" cy="813.9" r="4.1" fill="#cc0066"/>
<circle cx="302.0" cy="809.4" r="4.1" fill="#cc0066"/>
<circle cx="193.3" cy="815.9" r="4.1" fill="#cc0066"/>
<circle cx="205.5" cy="823.8" r="4.1" fill="#cc0066"/>
<circle cx="224.2" cy="815.3" r="4.1" fill="#cc0066"/>
<circle cx="235.0" cy="815.3" r="4.1" fill="#cc0066"/>
<circle cx="240.9" cy="822.2" r="4.1" fill="#cc0066"/>
<circle cx="240.0" cy="827.7" r="4.1" fill="#cc0066"/>
<circle cx="256.7" cy="831.7" r="4.1" fill="#cc0066"/>
<circle cx="255.7" cy="838.4" r="4.1" fill="#cc0066"/>
<circle cx="262.2" cy="822.2" r="4.1" fill="#cc0066"/>
<circle cx="297.7" cy="822.2" r="4.1" fill="#cc0066"/>
<circle cx="278.0" cy="846.8" r="4.1" fill="#cc0066"/>
<circle cx="243.5" cy="849.8" r="4.1" fill="#cc0066"/>
<circle cx="209.4" cy="856.1" r="4.1" fill="#cc0066"/>
<line x1="60.41" y1="783.10" x2="303.90" y2="783.10" stroke="#000" stroke-width="7.3" stroke-linecap="round"/>
<circle cx="423.08" cy="783.30" r="4.1" fill="#cc0066"/>
<circle cx="428.06" cy="756.12" r="4.1" fill="#cc0066"/>
<circle cx="433.03" cy="794.68" r="4.1" fill="#cc0066"/>
<circle cx="438.01" cy="779.09" r="4.1" fill="#cc0066"/>
<circle cx="442.99" cy="805.42" r="4.1" fill="#cc0066"/>
<circle cx="447.97" cy="852.03" r="4.1" fill="#cc0066"/>
<circle cx="452.95" cy="744.06" r="4.1" fill="#cc0066"/>
<circle cx="457.92" cy="770.13" r="4.1" fill="#cc0066"/>
<circle cx="462.90" cy="829.86" r="4.1" fill="#cc0066"/>
<circle cx="467.88" cy="765.92" r="4.1" fill="#cc0066"/>
<circle cx="472.86" cy="853.24" r="4.1" fill="#cc0066"/>
<circle cx="477.84" cy="756.23" r="4.1" fill="#cc0066"/>
<circle cx="482.81" cy="766.29" r="4.1" fill="#cc0066"/>
<circle cx="487.79" cy="737.06" r="4.1" fill="#cc0066"/>
<circle cx="492.77" cy="819.85" r="4.1" fill="#cc0066"/>
<circle cx="497.75" cy="771.71" r="4.1" fill="#cc0066"/>
<circle cx="502.73" cy="751.70" r="4.1" fill="#cc0066"/>
<circle cx="507.70" cy="755.07" r="4.1" fill="#cc0066"/>
<circle cx="512.68" cy="772.77" r="4.1" fill="#cc0066"/>
<circle cx="517.66" cy="763.44" r="4.1" fill="#cc0066"/>
<circle cx="522.64" cy="765.76" r="4.1" fill="#cc0066"/>
<circle cx="527.62" cy="769.24" r="4.1" fill="#cc0066"/>
<circle cx="532.59" cy="762.23" r="4.1" fill="#cc0066"/>
<circle cx="537.57" cy="776.72" r="4.1" fill="#cc0066"/>
<circle cx="542.55" cy="801.31" r="4.1" fill="#cc0066"/>
<circle cx="547.53" cy="802.26" r="4.1" fill="#cc0066"/>
<circle cx="552.51" cy="743.01" r="4.1" fill="#cc0066"/>
<circle cx="557.48" cy="760.81" r="4.1" fill="#cc0066"/>
<circle cx="562.46" cy="790.41" r="4.1" fill="#cc0066"/>
<circle cx="567.44" cy="816.80" r="4.1" fill="#cc0066"/>
<circle cx="572.42" cy="777.82" r="4.1" fill="#cc0066"/>
<circle cx="577.40" cy="780.67" r="4.1" fill="#cc0066"/>
<circle cx="582.37" cy="762.39" r="4.1" fill="#cc0066"/>
<circle cx="587.35" cy="810.48" r="4.1" fill="#cc0066"/>
<circle cx="592.33" cy="786.99" r="4.1" fill="#cc0066"/>
<circle cx="597.31" cy="804.68" r="4.1" fill="#cc0066"/>
<circle cx="602.29" cy="751.81" r="4.1" fill="#cc0066"/>
<circle cx="607.26" cy="834.39" r="4.1" fill="#cc0066"/>
<circle cx="612.24" cy="766.97" r="4.1" fill="#cc0066"/>
<circle cx="617.22" cy="795.10" r="4.1" fill="#cc0066"/>
<circle cx="622.20" cy="787.41" r="4.1" fill="#cc0066"/>
<circle cx="627.18" cy="779.82" r="4.1" fill="#cc0066"/>
<circle cx="632.15" cy="742.01" r="4.1" fill="#cc0066"/>
<circle cx="637.13" cy="748.12" r="4.1" fill="#cc0066"/>
<circle cx="642.11" cy="762.92" r="4.1" fill="#cc0066"/>
<circle cx="647.09" cy="746.54" r="4.1" fill="#cc0066"/>
<circle cx="652.07" cy="766.50" r="4.1" fill="#cc0066"/>
<circle cx="657.04" cy="767.61" r="4.1" fill="#cc0066"/>
<circle cx="662.02" cy="772.29" r="4.1" fill="#cc0066"/>
<circle cx="667.00" cy="784.88" r="4.1" fill="#cc0066"/>
<line x1="428.55" y1="783.30" x2="667.00" y2="783.30" stroke="#000" stroke-width="7.3" stroke-linecap="round"/>
<text transform="translate(47.10 709.60) scale(1 1.03)" font-size="12.7" text-anchor="end" fill="#000">15</text>
<text transform="translate(47.10 736.00) scale(1 1.03)" font-size="12.7" text-anchor="end" fill="#000">10</text>
<text transform="translate(47.10 762.40) scale(1 1.03)" font-size="12.7" text-anchor="end" fill="#000">5</text>
<text transform="translate(47.10 788.80) scale(1 1.03)" font-size="12.7" text-anchor="end" fill="#000">0</text>
<text transform="translate(47.10 815.20) scale(1 1.03)" font-size="12.7" text-anchor="end" fill="#000">-5</text>
<text transform="translate(47.10 841.60) scale(1 1.03)" font-size="12.7" text-anchor="end" fill="#000">-10</text>
<text transform="translate(47.10 868.00) scale(1 1.03)" font-size="12.7" text-anchor="end" fill="#000">-15</text>
<text transform="translate(405.50 710.00) scale(1 1.03)" font-size="12.7" text-anchor="end" fill="#000">15</text>
<text transform="translate(405.50 736.33) scale(1 1.03)" font-size="12.7" text-anchor="end" fill="#000">10</text>
<text transform="translate(405.50 762.67) scale(1 1.03)" font-size="12.7" text-anchor="end" fill="#000">5</text>
<text transform="translate(405.50 789.00) scale(1 1.03)" font-size="12.7" text-anchor="end" fill="#000">0</text>
<text transform="translate(405.50 815.33) scale(1 1.03)" font-size="12.7" text-anchor="end" fill="#000">-5</text>
<text transform="translate(405.50 841.67) scale(1 1.03)" font-size="12.7" text-anchor="end" fill="#000">-10</text>
<text transform="translate(405.50 868.00) scale(1 1.03)" font-size="12.7" text-anchor="end" fill="#000">-15</text>
<text x="181.40" y="892.00" font-size="13.6" font-weight="bold" text-anchor="middle" fill="#000">Predicted Compressive Strength (MPa)</text>
<text x="542.60" y="891.50" font-size="13.6" font-weight="bold" text-anchor="middle" fill="#000">Predicted Compressive Strength (MPa)</text>
<text x="161.30" y="919.70" font-size="14" text-anchor="middle" fill="#000">(g)</text>
<text x="521.20" y="919.70" font-size="14" text-anchor="middle" fill="#000">(h)</text>
<text x="22.70" y="783.00" font-size="13.5" font-weight="bold" text-anchor="middle" fill="#000" transform="rotate(-90 22.70 783.00)">Residuals</text>
<text x="382.80" y="783.00" font-size="13.5" font-weight="bold" text-anchor="middle" fill="#000" transform="rotate(-90 382.80 783.00)">Residuals</text>
</svg></body></html>
